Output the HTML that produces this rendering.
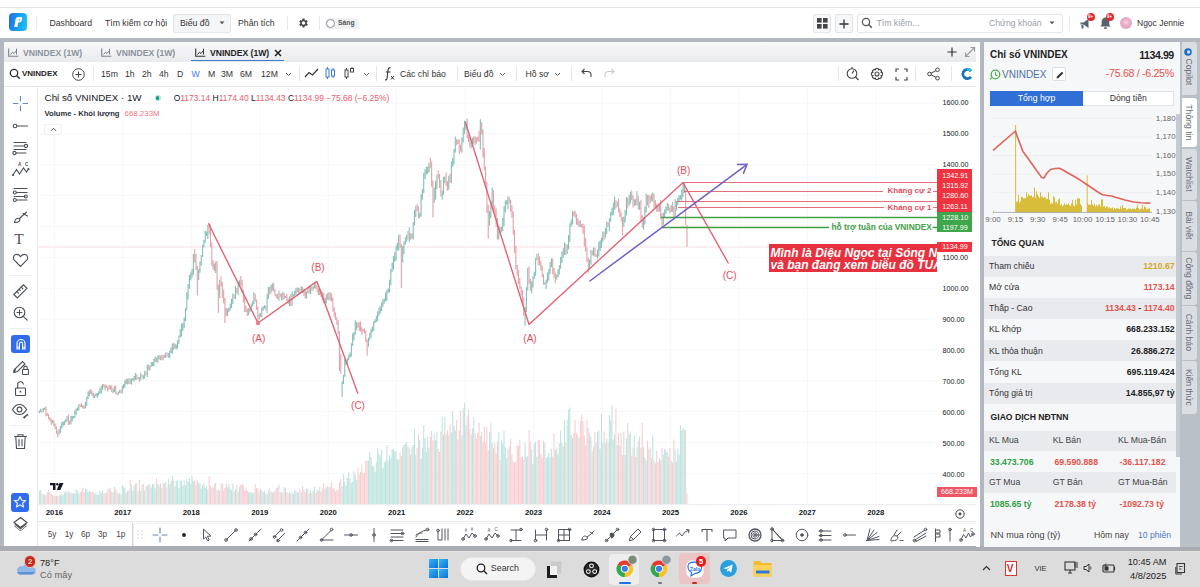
<!DOCTYPE html><html><head><meta charset="utf-8"><style>
*{margin:0;padding:0;box-sizing:border-box}
html,body{width:1200px;height:587px;overflow:hidden;background:#fff;font-family:"Liberation Sans",sans-serif;color:#222}
.a{position:absolute}
.t{position:absolute;white-space:nowrap;line-height:1}
svg{position:absolute;overflow:visible}
</style></head><body>
<div class="a" style="left:0;top:7px;width:1200px;height:1px;background:#e6e6e6"></div>
<!-- logo -->
<div class="a" style="left:9px;top:13px;width:18px;height:18px;border-radius:4px;background:linear-gradient(100deg,#1e6fe0,#1aa6f2 60%,#19c4f6)"></div>
<svg style="left:9px;top:13px" width="18" height="18" viewBox="0 0 18 18"><path d="M5.3 14 L6.6 6.2 Q7 4 9.5 4 L12.3 4 Q13.5 4 13.2 5.5 L12.9 7.2 Q12.6 9 10.8 9.2 L9.3 9.4 L8.4 14Z" fill="#fff"/><path d="M9.8 6.2 L11 6.2 L10.8 7.3 L9.6 7.4Z" fill="#1aa6f2"/></svg>
<div class="a" style="left:36px;top:16px;width:1px;height:14px;background:#e8e8e8"></div>
<div class="t" style="left:49.5px;top:18.5px;font-size:8.7px;color:#333">Dashboard</div>
<div class="t" style="left:105px;top:18.5px;font-size:8.7px;color:#333">Tìm kiếm cơ hội</div>
<div class="a" style="left:173px;top:14px;width:58px;height:18.5px;background:#f4f5f7;border:1px solid #e2e4e8;border-radius:2px"></div>
<div class="t" style="left:180px;top:18.5px;font-size:8.7px;color:#333">Biểu đồ</div>
<svg style="left:219px;top:21px" width="6" height="4"><path d="M0.5 0.5L3 3.2L5.5 0.5Z" fill="#555"/></svg>
<div class="t" style="left:238px;top:18.5px;font-size:8.7px;color:#333">Phân tích</div>
<div class="a" style="left:287px;top:16px;width:1px;height:14px;background:#e8e8e8"></div>
<svg style="left:297px;top:17px" width="12" height="12" viewBox="0 0 24 24"><path fill="#444" d="M19.4 13a7.5 7.5 0 0 0 0-2l2.1-1.6-2-3.5-2.5 1a7.6 7.6 0 0 0-1.7-1L15 3h-4l-.4 2.9a7.6 7.6 0 0 0-1.7 1l-2.5-1-2 3.5L6.6 11a7.5 7.5 0 0 0 0 2l-2.1 1.6 2 3.5 2.5-1a7.6 7.6 0 0 0 1.7 1L11 21h4l.4-2.9a7.6 7.6 0 0 0 1.7-1l2.5 1 2-3.5zM13 15.5a3.5 3.5 0 1 1 0-7 3.5 3.5 0 0 1 0 7z"/></svg>
<div class="a" style="left:319px;top:16px;width:1px;height:14px;background:#e8e8e8"></div>
<div class="a" style="left:325px;top:17.5px;width:34px;height:11px;border-radius:6px;background:#eef0f3"></div>
<div class="a" style="left:326px;top:18.5px;width:9px;height:9px;border-radius:50%;background:#fff;border:1px solid #8a8f98"></div>
<div class="t" style="left:338px;top:20px;font-size:6.8px;font-weight:bold;color:#555">Sáng</div>

<div class="a" style="left:812.5px;top:14px;width:18.5px;height:18.5px;border:1px solid #e2e4e8;background:#f6f7f9;border-radius:2px"></div>
<svg style="left:816.5px;top:18px" width="11" height="11"><rect x="0" y="0" width="4.6" height="4.6" fill="#444"/><rect x="6" y="0" width="4.6" height="4.6" fill="#444"/><rect x="0" y="6" width="4.6" height="4.6" fill="#444"/><rect x="6" y="6" width="4.6" height="4.6" fill="#444"/></svg>
<div class="a" style="left:834.5px;top:14px;width:18.5px;height:18.5px;border:1px solid #e2e4e8;background:#f6f7f9;border-radius:2px"></div>
<svg style="left:839px;top:18.5px" width="10" height="10"><path d="M5 0.5V9.5M0.5 5H9.5" stroke="#333" stroke-width="1.3"/></svg>
<div class="a" style="left:857px;top:14px;width:206px;height:18.5px;border:1px solid #e2e4e8;background:#fff;border-radius:2px"></div>
<svg style="left:861px;top:17px" width="12" height="12"><circle cx="5" cy="5" r="3.6" stroke="#555" stroke-width="1.3" fill="none"/><path d="M7.6 7.6L10.8 10.8" stroke="#555" stroke-width="1.4"/></svg>
<div class="t" style="left:876.5px;top:18.5px;font-size:8.7px;color:#9aa0a8">Tìm kiếm...</div>
<div class="t" style="left:989px;top:18.5px;font-size:8.7px;color:#9aa0a8">Chứng khoán</div>
<svg style="left:1049px;top:21px" width="6" height="4"><path d="M0.5 0.5L3 3.2L5.5 0.5Z" fill="#555"/></svg>
<div class="a" style="left:1069px;top:15px;width:1px;height:16px;background:#eaeaea"></div>
<!-- megaphone -->
<svg style="left:1079px;top:16px" width="14" height="14" viewBox="0 0 14 14"><path d="M1.5 6.5h3l5-3.5v9l-5-3.5h-3z" fill="#5a6270"/><rect x="2.5" y="9" width="2" height="3.5" fill="#5a6270"/></svg>
<div class="a" style="left:1087px;top:13px;width:8px;height:8px;border-radius:50%;background:#e0262e"></div>
<div class="t" style="left:1088px;top:15px;font-size:4.5px;font-weight:bold;color:#fff">9+</div>
<!-- bell -->
<svg style="left:1099px;top:16px" width="13" height="14" viewBox="0 0 13 14"><path d="M6.5 1.5c-2.3 0-3.8 1.8-3.8 4v3.2L1.3 10.5h10.4L10.3 8.7V5.5c0-2.2-1.5-4-3.8-4z" fill="#5a6270"/><rect x="5" y="11.2" width="3" height="1.8" rx="0.9" fill="#5a6270"/></svg>
<div class="a" style="left:1106px;top:13px;width:8px;height:8px;border-radius:50%;background:#e0262e"></div>
<div class="t" style="left:1107px;top:15px;font-size:4.5px;font-weight:bold;color:#fff">9+</div>
<div class="a" style="left:1120px;top:17px;width:12px;height:12px;border-radius:50%;background:radial-gradient(circle at 50% 45%,#f6d0dc 0,#e8a9c4 45%,#d9a0d0 100%)"></div>
<div class="t" style="left:1137px;top:18.5px;font-size:8.5px;color:#333">Ngọc Jennie</div>

<div class="a" style="left:0;top:38px;width:1200px;height:4px;background:#b3b8c0"></div>
<div class="a" style="left:0;top:42px;width:4px;height:505px;background:#b3b8c0"></div>
<div class="a" style="left:979.5px;top:42px;width:4.5px;height:505px;background:#b3b8c0"></div>
<div class="a" style="left:0;top:546px;width:1200px;height:5px;background:#a9acb2"></div>
<!-- tab bar -->
<div class="a" style="left:4px;top:42px;width:975.5px;height:20px;background:linear-gradient(#f9f9fa,#e9eaec)"></div>
<div class="a" style="left:976px;top:42px;width:3.5px;height:505px;background:#fff"></div>
<div class="a" style="left:36.7px;top:87px;width:1.8px;height:459px;background:#e8eaee;z-index:2"></div>
<svg style="left:8px;top:48px" width="11" height="9" viewBox="0 0 11 9"><path d="M0.7 0.5V8.3H10.3" stroke="#7a8290" stroke-width="1.1" fill="none"/><path d="M2.5 6.5L4.5 4.2L6 5.5L8.5 2.5" stroke="#7a8290" stroke-width="1" fill="none"/><path d="M8.5 0.7V6.5" stroke="#7a8290" stroke-width="1"/></svg><div class="t" style="left:23px;top:48.5px;font-size:8.6px;font-weight:bold;color:#8a919c">VNINDEX (1W)</div><svg style="left:101px;top:48px" width="11" height="9" viewBox="0 0 11 9"><path d="M0.7 0.5V8.3H10.3" stroke="#7a8290" stroke-width="1.1" fill="none"/><path d="M2.5 6.5L4.5 4.2L6 5.5L8.5 2.5" stroke="#7a8290" stroke-width="1" fill="none"/><path d="M8.5 0.7V6.5" stroke="#7a8290" stroke-width="1"/></svg><div class="t" style="left:116px;top:48.5px;font-size:8.6px;font-weight:bold;color:#8a919c">VNINDEX (1W)</div><svg style="left:195px;top:48px" width="11" height="9" viewBox="0 0 11 9"><path d="M0.7 0.5V8.3H10.3" stroke="#333" stroke-width="1.1" fill="none"/><path d="M2.5 6.5L4.5 4.2L6 5.5L8.5 2.5" stroke="#333" stroke-width="1" fill="none"/><path d="M8.5 0.7V6.5" stroke="#333" stroke-width="1"/></svg><div class="t" style="left:210px;top:48.5px;font-size:8.6px;font-weight:bold;color:#222">VNINDEX (1W)</div><svg style="left:273.5px;top:49px" width="8" height="8"><path d="M1 1L7 7M7 1L1 7" stroke="#222" stroke-width="1.5"/></svg><div class="a" style="left:191px;top:59.5px;width:93px;height:1.2px;background:#3a7bd5"></div><svg style="left:946.5px;top:47px" width="10" height="10"><path d="M5 0.5V9.5M0.5 5H9.5" stroke="#333" stroke-width="1.2"/></svg><svg style="left:964px;top:46px" width="12" height="12"><path d="M1.5 10.5L10.5 1.5M6.5 1.5H10.5V5.5M1.5 6.5V10.5H5.5" stroke="#999" stroke-width="1.1" fill="none"/></svg><div class="a" style="left:4px;top:62px;width:972px;height:24.5px;background:#fff;border-bottom:1.5px solid #e3e5e9"></div><svg style="left:8.5px;top:67.5px" width="12" height="12" viewBox="0 0 12 12"><circle cx="5" cy="5" r="3.7" stroke="#333" stroke-width="1.3" fill="none"/><path d="M7.7 7.7L10.8 10.8" stroke="#333" stroke-width="1.4"/></svg><div class="t" style="left:22px;top:69.8px;font-size:8.0px;color:#222;font-weight:bold;">VNINDEX</div><svg style="left:71.5px;top:67.5px" width="13" height="13" viewBox="0 0 13 13"><circle cx="6.5" cy="6.5" r="5.8" stroke="#444" stroke-width="1" fill="none"/><path d="M6.5 3.5V9.5M3.5 6.5H9.5" stroke="#444" stroke-width="1.1"/></svg><div class="a" style="left:93px;top:66px;width:1px;height:15px;background:#e4e6ea"></div><div class="t" style="left:101px;top:69.5px;font-size:8.7px;color:#333;font-weight:normal;">15m</div><div class="t" style="left:125px;top:69.5px;font-size:8.7px;color:#333;font-weight:normal;">1h</div><div class="t" style="left:142px;top:69.5px;font-size:8.7px;color:#333;font-weight:normal;">2h</div><div class="t" style="left:159px;top:69.5px;font-size:8.7px;color:#333;font-weight:normal;">4h</div><div class="t" style="left:177px;top:69.5px;font-size:8.7px;color:#333;font-weight:normal;">D</div><div class="t" style="left:191.5px;top:69.5px;font-size:8.7px;color:#3b78e7;font-weight:normal;">W</div><div class="t" style="left:208px;top:69.5px;font-size:8.7px;color:#333;font-weight:normal;">M</div><div class="t" style="left:221px;top:69.5px;font-size:8.7px;color:#333;font-weight:normal;">3M</div><div class="t" style="left:240px;top:69.5px;font-size:8.7px;color:#333;font-weight:normal;">6M</div><div class="t" style="left:261px;top:69.5px;font-size:8.7px;color:#333;font-weight:normal;">12M</div><svg style="left:285px;top:72px" width="7" height="5" viewBox="0 0 7 5"><path d="M1 1L3.5 3.5L6 1" stroke="#555" stroke-width="1" fill="none"/></svg><div class="a" style="left:298.5px;top:66px;width:1px;height:15px;background:#e4e6ea"></div><svg style="left:304px;top:67px" width="15" height="12" viewBox="0 0 15 12"><path d="M1 10L5 5.5L8.5 8L14 2" stroke="#333" stroke-width="1.2" fill="none"/></svg><svg style="left:325px;top:66px" width="11" height="14" viewBox="0 0 11 14"><rect x="1" y="3" width="3" height="8" stroke="#3b78e7" stroke-width="1" fill="none"/><path d="M2.5 1V3M2.5 11V13" stroke="#3b78e7"/><rect x="6.5" y="4" width="3" height="6" stroke="#3b78e7" stroke-width="1" fill="none"/><path d="M8 2V4M8 10V12" stroke="#3b78e7"/></svg><svg style="left:344px;top:66px" width="11" height="14" viewBox="0 0 11 14"><rect x="1" y="4" width="3" height="7" stroke="#444" stroke-width="1" fill="none"/><path d="M2.5 2V4M2.5 11V13" stroke="#444"/><rect x="6.5" y="2.5" width="3" height="3.5" stroke="#444" stroke-width="1" fill="none"/><path d="M8 1V2.5" stroke="#444"/></svg><svg style="left:363px;top:72px" width="7" height="5" viewBox="0 0 7 5"><path d="M1 1L3.5 3.5L6 1" stroke="#555" stroke-width="1" fill="none"/></svg><div class="a" style="left:376px;top:66px;width:1px;height:15px;background:#e4e6ea"></div><svg style="left:384px;top:66px" width="11" height="15" viewBox="0 0 11 15"><path d="M6.5 1.5C4.5 1.5 4.3 2.5 4 4.5L3 12.5C2.8 13.8 2 14 1 13.8M1.8 6H6.5" stroke="#333" stroke-width="1.1" fill="none"/><path d="M7 10L10 13.5M10 10L7 13.5" stroke="#333" stroke-width="1"/></svg><div class="t" style="left:400px;top:69.5px;font-size:8.7px;color:#333;font-weight:normal;">Các chỉ báo</div><div class="a" style="left:456.5px;top:66px;width:1px;height:15px;background:#e4e6ea"></div><div class="t" style="left:464px;top:69.5px;font-size:8.7px;color:#333;font-weight:normal;">Biểu đồ</div><svg style="left:499px;top:72px" width="7" height="5" viewBox="0 0 7 5"><path d="M1 1L3.5 3.5L6 1" stroke="#555" stroke-width="1" fill="none"/></svg><div class="a" style="left:516px;top:66px;width:1px;height:15px;background:#e4e6ea"></div><div class="t" style="left:525.5px;top:69.5px;font-size:8.7px;color:#333;font-weight:normal;">Hồ sơ</div><svg style="left:554px;top:72px" width="7" height="5" viewBox="0 0 7 5"><path d="M1 1L3.5 3.5L6 1" stroke="#555" stroke-width="1" fill="none"/></svg><div class="a" style="left:571px;top:66px;width:1px;height:15px;background:#e4e6ea"></div><svg style="left:581px;top:68px" width="11" height="10" viewBox="0 0 11 10"><path d="M3.5 1L1 3.5L3.5 6M1 3.5H6.5C8.5 3.5 10 5 10 7V9" stroke="#444" stroke-width="1.1" fill="none"/></svg><svg style="left:604px;top:68px" width="11" height="10" viewBox="0 0 11 10"><path d="M7.5 1L10 3.5L7.5 6M10 3.5H4.5C2.5 3.5 1 5 1 7V9" stroke="#c8cbd0" stroke-width="1.1" fill="none"/></svg><div class="a" style="left:838px;top:66px;width:1px;height:15px;background:#e4e6ea"></div><svg style="left:846px;top:66px" width="14" height="15" viewBox="0 0 14 15"><circle cx="6" cy="7.5" r="4.8" stroke="#444" stroke-width="1.1" fill="none"/><path d="M6 7.5L8 4.5M9.5 11L12.5 14" stroke="#444" stroke-width="1.2" fill="none"/><path d="M6 1V2.7" stroke="#444" stroke-width="1.2"/></svg><svg style="left:869.5px;top:66.5px" width="14" height="14" viewBox="0 0 14 14"><path d="M10.98 5.37L12.47 5.78L12.47 8.22L10.98 8.63L10.97 8.66L11.73 10.00L10.00 11.73L8.66 10.97L8.63 10.98L8.22 12.47L5.78 12.47L5.37 10.98L5.34 10.97L4.00 11.73L2.27 10.00L3.03 8.66L3.02 8.63L1.53 8.22L1.53 5.78L3.02 5.37L3.03 5.34L2.27 4.00L4.00 2.27L5.34 3.03L5.37 3.02L5.78 1.53L8.22 1.53L8.63 3.02L8.66 3.03L10.00 2.27L11.73 4.00L10.97 5.34Z" stroke="#444" stroke-width="1.1" fill="none" stroke-linejoin="round"/><circle cx="7" cy="7" r="2" stroke="#444" stroke-width="1.1" fill="none"/></svg><svg style="left:894.5px;top:67.5px" width="13" height="13" viewBox="0 0 13 13"><path d="M1 4V1H4M9 1H12V4M12 9V12H9M4 12H1V9" stroke="#444" stroke-width="1.2" fill="none"/></svg><div class="a" style="left:915px;top:66px;width:1px;height:15px;background:#e4e6ea"></div><svg style="left:926.5px;top:66.5px" width="13" height="14" viewBox="0 0 13 14"><circle cx="10.5" cy="2.8" r="1.8" stroke="#444" stroke-width="1" fill="none"/><circle cx="10.5" cy="11.2" r="1.8" stroke="#444" stroke-width="1" fill="none"/><circle cx="2.5" cy="7" r="1.8" stroke="#444" stroke-width="1" fill="none"/><path d="M4 6.2L9 3.6M4 7.8L9 10.4" stroke="#444" stroke-width="1"/></svg><div class="a" style="left:950.5px;top:66px;width:1px;height:15px;background:#e4e6ea"></div><svg style="left:959.5px;top:66.5px" width="14" height="14" viewBox="0 0 14 14"><path d="M12.2 3.2A6 6 0 1 0 12.2 10.8L9.8 9A3.1 3.1 0 1 1 9.8 5Z" fill="#1a6fc4"/><path d="M12.2 3.2L9.8 5A3.1 3.1 0 0 0 7 3.9V1A6 6 0 0 1 12.2 3.2Z" fill="#29b6e8"/></svg>
<div class="a" style="left:38px;top:87px;width:938px;height:435px;background:#fff"></div>
<svg style="left:0;top:0" width="1200" height="587">
<defs><clipPath id="cp"><rect x="38" y="87" width="899" height="418"/></clipPath></defs>
<path d="M38 473.3H937M38 442.4H937M38 411.6H937M38 380.8H937M38 349.9H937M38 319.1H937M38 288.2H937M38 257.3H937M38 226.5H937M38 195.6H937M38 164.8H937M38 133.9H937M38 103.1H937M54.4 87V504M122.8 87V504M191.3 87V504M259.8 87V504M328.2 87V504M396.6 87V504M465.1 87V504M533.6 87V504M602.0 87V504M670.5 87V504M738.9 87V504M807.4 87V504M875.8 87V504" stroke="#f6f7f9" stroke-width="1" fill="none"/>
<g clip-path="url(#cp)">
<path d="M39.36 504.5V490.7M40.67 504.5V489.9M43.31 504.5V494.3M44.62 504.5V494.8M52.52 504.5V490.1M59.10 504.5V489.6M60.42 504.5V489.3M61.74 504.5V492.3M63.05 504.5V495.0M64.37 504.5V491.5M65.68 504.5V490.1M67.00 504.5V492.5M70.95 504.5V492.1M72.27 504.5V493.7M73.58 504.5V493.0M74.90 504.5V493.8M76.22 504.5V489.8M77.53 504.5V490.9M78.85 504.5V493.7M85.43 504.5V488.6M86.75 504.5V488.9M88.06 504.5V491.9M89.38 504.5V490.8M94.64 504.5V494.1M95.96 504.5V492.6M97.28 504.5V494.7M98.59 504.5V495.1M99.91 504.5V489.9M101.23 504.5V493.1M102.54 504.5V490.6M107.81 504.5V489.6M113.07 504.5V492.1M114.39 504.5V487.1M118.34 504.5V493.7M119.65 504.5V492.8M122.29 504.5V484.9M123.60 504.5V487.2M124.92 504.5V487.7M126.24 504.5V493.0M128.87 504.5V490.5M131.50 504.5V484.4M132.82 504.5V490.8M134.13 504.5V485.5M135.45 504.5V483.6M138.08 504.5V491.3M140.72 504.5V490.6M143.35 504.5V483.9M144.67 504.5V490.7M147.30 504.5V485.3M149.93 504.5V485.5M151.25 504.5V487.4M152.56 504.5V484.2M153.88 504.5V484.2M155.20 504.5V488.4M157.83 504.5V483.7M159.15 504.5V485.6M163.09 504.5V482.5M165.73 504.5V482.0M168.36 504.5V479.1M169.68 504.5V484.3M170.99 504.5V481.2M172.31 504.5V476.0M174.94 504.5V486.5M176.26 504.5V481.1M177.57 504.5V479.8M178.89 504.5V487.9M180.21 504.5V480.5M181.52 504.5V480.7M182.84 504.5V485.7M184.16 504.5V480.7M185.47 504.5V485.5M186.79 504.5V479.3M188.10 504.5V482.1M189.42 504.5V477.9M190.74 504.5V484.1M192.05 504.5V476.2M193.37 504.5V481.0M198.64 504.5V482.4M199.95 504.5V483.4M201.27 504.5V488.4M202.58 504.5V485.3M203.90 504.5V483.0M205.22 504.5V487.9M206.53 504.5V486.3M207.85 504.5V489.6M215.75 504.5V482.5M219.70 504.5V490.7M227.60 504.5V486.9M228.91 504.5V483.8M230.23 504.5V488.5M231.54 504.5V490.5M232.86 504.5V483.8M235.49 504.5V489.2M238.13 504.5V491.8M239.44 504.5V486.7M248.66 504.5V492.3M249.97 504.5V492.1M251.29 504.5V492.5M252.61 504.5V493.5M253.92 504.5V492.4M259.19 504.5V491.4M261.82 504.5V490.3M263.14 504.5V492.2M264.45 504.5V491.2M267.09 504.5V493.9M268.40 504.5V490.7M271.03 504.5V491.5M272.35 504.5V492.4M278.93 504.5V484.5M282.88 504.5V492.7M285.51 504.5V487.7M289.46 504.5V491.9M292.10 504.5V491.5M293.41 504.5V493.8M294.73 504.5V490.2M296.05 504.5V490.8M298.68 504.5V492.8M301.31 504.5V492.3M306.58 504.5V488.4M307.89 504.5V489.2M310.53 504.5V490.3M313.16 504.5V490.7M314.47 504.5V486.8M319.74 504.5V486.7M325.00 504.5V488.8M326.32 504.5V487.2M328.95 504.5V487.1M342.12 504.5V486.7M343.43 504.5V474.3M344.75 504.5V481.6M346.07 504.5V485.6M347.38 504.5V477.8M348.70 504.5V472.4M350.02 504.5V478.8M351.33 504.5V482.9M352.65 504.5V482.1M353.96 504.5V471.7M355.28 504.5V474.8M356.60 504.5V479.7M368.44 504.5V460.8M369.76 504.5V451.9M371.08 504.5V457.1M372.39 504.5V465.9M373.71 504.5V466.2M375.03 504.5V471.4M376.34 504.5V461.8M377.66 504.5V448.3M378.98 504.5V454.2M380.29 504.5V456.4M381.61 504.5V450.0M382.92 504.5V468.2M384.24 504.5V462.3M385.56 504.5V461.3M386.87 504.5V445.0M388.19 504.5V460.4M389.51 504.5V455.2M390.82 504.5V458.2M392.14 504.5V448.7M393.45 504.5V449.5M394.77 504.5V451.0M396.09 504.5V451.8M397.40 504.5V459.6M398.72 504.5V459.6M402.67 504.5V447.1M403.99 504.5V444.9M405.30 504.5V443.4M406.62 504.5V441.7M409.25 504.5V448.4M411.88 504.5V447.2M413.20 504.5V445.1M414.52 504.5V428.3M415.83 504.5V454.7M419.78 504.5V440.0M421.10 504.5V459.0M422.41 504.5V448.0M423.73 504.5V425.3M425.05 504.5V438.2M426.36 504.5V452.3M427.68 504.5V436.6M429.00 504.5V447.8M434.26 504.5V432.7M435.58 504.5V440.1M436.89 504.5V431.4M442.16 504.5V417.1M443.48 504.5V434.7M444.79 504.5V417.3M448.74 504.5V435.3M451.37 504.5V432.4M452.69 504.5V411.0M454.01 504.5V425.7M455.32 504.5V430.6M461.90 504.5V435.6M463.22 504.5V408.4M464.54 504.5V402.8M465.85 504.5V425.6M471.12 504.5V434.5M472.44 504.5V428.4M473.75 504.5V417.5M480.33 504.5V436.0M489.55 504.5V431.8M490.86 504.5V423.2M492.18 504.5V442.5M498.76 504.5V432.4M501.40 504.5V440.2M502.71 504.5V443.4M504.03 504.5V430.9M505.34 504.5V447.2M506.66 504.5V458.0M507.98 504.5V449.1M525.09 504.5V443.2M526.41 504.5V457.0M527.72 504.5V456.0M531.67 504.5V449.9M532.99 504.5V464.1M534.30 504.5V443.4M535.62 504.5V442.0M536.94 504.5V456.9M544.83 504.5V442.7M546.15 504.5V458.1M547.47 504.5V456.8M548.78 504.5V453.0M550.10 504.5V457.0M551.42 504.5V448.4M556.68 504.5V447.4M558.00 504.5V454.3M559.31 504.5V443.6M560.63 504.5V430.4M561.95 504.5V443.1M563.26 504.5V446.4M564.58 504.5V420.1M567.21 504.5V420.2M568.53 504.5V409.4M569.85 504.5V407.5M571.16 504.5V435.0M572.48 504.5V438.6M579.06 504.5V437.9M589.59 504.5V433.5M590.91 504.5V436.6M593.54 504.5V446.9M597.49 504.5V431.8M598.80 504.5V430.0M600.12 504.5V448.4M601.44 504.5V413.8M602.75 504.5V443.1M605.39 504.5V443.4M606.70 504.5V438.4M609.34 504.5V415.1M610.65 504.5V420.5M611.97 504.5V405.5M613.28 504.5V439.6M614.60 504.5V434.6M617.23 504.5V445.0M623.82 504.5V431.6M625.13 504.5V455.0M626.45 504.5V438.4M629.08 504.5V434.5M630.40 504.5V431.6M634.35 504.5V435.3M636.98 504.5V447.6M639.61 504.5V436.8M643.56 504.5V446.8M644.88 504.5V457.8M646.19 504.5V460.7M650.14 504.5V447.2M652.78 504.5V434.8M659.36 504.5V457.9M663.31 504.5V455.1M664.62 504.5V449.1M665.94 504.5V450.2M667.25 504.5V452.2M671.20 504.5V460.6M675.15 504.5V449.9M676.47 504.5V461.4M677.79 504.5V449.1M679.10 504.5V454.5M680.42 504.5V425.1M681.73 504.5V430.6M683.05 504.5V428.2M684.37 504.5V430.2" stroke="#bfe3de" stroke-width="1.05" fill="none"/>
<path d="M41.99 504.5V493.6M45.94 504.5V494.3M47.26 504.5V492.2M48.57 504.5V490.0M49.89 504.5V486.7M51.20 504.5V491.8M53.84 504.5V492.6M55.15 504.5V494.7M56.47 504.5V491.3M57.79 504.5V487.3M68.32 504.5V490.8M69.63 504.5V492.8M80.16 504.5V492.1M81.48 504.5V491.0M82.80 504.5V487.6M84.11 504.5V492.3M90.70 504.5V491.8M92.01 504.5V491.7M93.33 504.5V491.9M103.86 504.5V493.7M105.18 504.5V492.7M106.49 504.5V492.6M109.12 504.5V487.4M110.44 504.5V488.5M111.76 504.5V491.5M115.71 504.5V488.7M117.02 504.5V491.4M120.97 504.5V494.0M127.55 504.5V490.8M130.19 504.5V480.1M136.77 504.5V483.3M139.40 504.5V480.1M142.03 504.5V485.1M145.98 504.5V486.3M148.61 504.5V484.3M156.51 504.5V478.2M160.46 504.5V483.5M161.78 504.5V487.9M164.41 504.5V484.1M167.04 504.5V487.4M173.63 504.5V481.0M194.69 504.5V480.7M196.00 504.5V485.5M197.32 504.5V480.5M209.17 504.5V476.3M210.48 504.5V485.7M211.80 504.5V488.0M213.12 504.5V486.8M214.43 504.5V484.0M217.06 504.5V490.6M218.38 504.5V489.5M221.01 504.5V483.7M222.33 504.5V483.2M223.65 504.5V490.8M224.96 504.5V488.1M226.28 504.5V483.5M234.18 504.5V491.6M236.81 504.5V484.9M240.76 504.5V484.7M242.08 504.5V484.0M243.39 504.5V485.5M244.71 504.5V490.5M246.02 504.5V487.3M247.34 504.5V490.7M255.24 504.5V484.1M256.55 504.5V487.8M257.87 504.5V488.3M260.50 504.5V488.4M265.77 504.5V493.4M269.72 504.5V488.5M273.67 504.5V492.0M274.98 504.5V490.9M276.30 504.5V488.1M277.62 504.5V487.6M280.25 504.5V492.6M281.57 504.5V492.1M284.20 504.5V487.3M286.83 504.5V492.0M288.15 504.5V493.5M290.78 504.5V493.8M297.36 504.5V492.2M299.99 504.5V488.4M302.63 504.5V486.1M303.94 504.5V490.1M305.26 504.5V492.0M309.21 504.5V492.9M311.84 504.5V492.8M315.79 504.5V492.9M317.11 504.5V489.5M318.42 504.5V491.0M321.06 504.5V491.6M322.37 504.5V488.3M323.69 504.5V483.2M327.64 504.5V486.0M330.27 504.5V486.7M331.59 504.5V481.4M332.90 504.5V488.5M334.22 504.5V488.2M335.54 504.5V491.8M336.85 504.5V489.4M338.17 504.5V489.8M339.48 504.5V482.4M340.80 504.5V478.8M357.91 504.5V467.6M359.23 504.5V474.4M360.55 504.5V471.9M361.86 504.5V464.4M363.18 504.5V473.2M364.50 504.5V472.5M365.81 504.5V460.5M367.13 504.5V460.6M400.04 504.5V451.9M401.35 504.5V455.8M407.93 504.5V446.2M410.57 504.5V454.6M417.15 504.5V447.7M418.47 504.5V434.0M430.31 504.5V437.0M431.63 504.5V430.9M432.95 504.5V440.4M438.21 504.5V449.1M439.53 504.5V452.1M440.84 504.5V431.4M446.11 504.5V433.9M447.43 504.5V430.1M450.06 504.5V424.5M456.64 504.5V420.1M457.96 504.5V439.6M459.27 504.5V430.5M460.59 504.5V410.7M467.17 504.5V416.5M468.49 504.5V409.6M469.80 504.5V428.6M475.07 504.5V433.4M476.38 504.5V438.8M477.70 504.5V432.8M479.02 504.5V422.5M481.65 504.5V431.7M482.97 504.5V441.4M484.28 504.5V426.2M485.60 504.5V442.8M486.92 504.5V426.6M488.23 504.5V450.2M493.50 504.5V447.7M494.81 504.5V442.4M496.13 504.5V453.2M497.45 504.5V442.1M500.08 504.5V460.2M509.29 504.5V447.2M510.61 504.5V438.8M511.93 504.5V454.3M513.24 504.5V461.2M514.56 504.5V462.8M515.88 504.5V461.4M517.19 504.5V445.2M518.51 504.5V445.6M519.82 504.5V439.6M521.14 504.5V457.6M522.46 504.5V456.8M523.77 504.5V459.0M529.04 504.5V430.1M530.35 504.5V441.7M538.25 504.5V439.9M539.57 504.5V439.8M540.89 504.5V454.0M542.20 504.5V458.1M543.52 504.5V440.8M552.73 504.5V456.7M554.05 504.5V433.2M555.37 504.5V449.6M565.90 504.5V442.4M573.79 504.5V433.3M575.11 504.5V420.3M576.43 504.5V433.4M577.74 504.5V434.5M580.38 504.5V421.6M581.69 504.5V414.6M583.01 504.5V420.9M584.33 504.5V435.5M585.64 504.5V445.2M586.96 504.5V419.7M588.27 504.5V428.2M592.22 504.5V451.5M594.86 504.5V432.0M596.17 504.5V442.7M604.07 504.5V431.4M608.02 504.5V442.9M615.92 504.5V408.4M618.55 504.5V433.6M619.87 504.5V445.7M621.18 504.5V432.8M622.50 504.5V455.1M627.76 504.5V422.9M631.71 504.5V456.2M633.03 504.5V447.6M635.66 504.5V456.9M638.30 504.5V440.4M640.93 504.5V447.8M642.24 504.5V423.1M647.51 504.5V440.9M648.83 504.5V448.7M651.46 504.5V458.0M654.09 504.5V460.7M655.41 504.5V463.0M656.72 504.5V450.8M658.04 504.5V461.9M660.67 504.5V460.3M661.99 504.5V447.9M668.57 504.5V456.8M669.89 504.5V447.9M672.52 504.5V462.4M673.84 504.5V439.4M685.68 504.5V429.7M687.00 504.5V493.5" stroke="#f8cdd1" stroke-width="1.05" fill="none"/>
<path d="M38 247H937" stroke="#f6dde0" stroke-width="1"/>
<path d="M39.36 410.4V413.3M40.67 408.8V412.2M43.31 408.1V411.8M44.62 407.4V410.1M52.52 420.2V423.6M59.10 429.0V434.7M60.42 425.9V433.0M61.74 422.2V428.8M63.05 421.5V426.6M64.37 420.8V425.2M65.68 419.2V422.5M67.00 415.9V421.5M70.95 416.0V424.6M72.27 415.8V421.2M73.58 415.9V418.4M74.90 410.2V417.8M76.22 408.4V415.0M77.53 407.3V410.7M78.85 403.9V410.5M85.43 401.8V408.2M86.75 396.5V406.0M88.06 391.5V398.9M89.38 390.3V396.3M94.64 394.4V398.1M95.96 393.5V396.2M97.28 393.1V397.9M98.59 391.2V395.4M99.91 388.3V393.3M101.23 385.8V394.1M102.54 384.2V389.9M107.81 386.4V391.4M113.07 388.5V393.2M114.39 385.9V392.3M118.34 391.4V394.8M119.65 389.7V393.1M122.29 385.6V393.2M123.60 384.1V389.0M124.92 380.5V387.4M126.24 378.7V384.2M128.87 378.2V384.2M131.50 378.6V384.7M132.82 378.1V380.8M134.13 375.9V381.5M135.45 372.9V379.7M138.08 377.1V379.2M140.72 372.8V380.2M143.35 375.2V379.4M144.67 370.8V378.6M147.30 364.8V377.0M149.93 365.4V370.8M151.25 361.9V366.7M152.56 362.1V366.1M153.88 358.7V366.4M155.20 356.6V362.3M157.83 355.5V363.2M159.15 355.2V359.5M163.09 355.0V360.6M165.73 352.4V358.1M168.36 353.1V357.5M169.68 350.7V358.2M170.99 347.4V353.1M172.31 343.5V353.7M174.94 343.8V348.8M176.26 344.4V349.6M177.57 340.3V348.5M178.89 335.6V343.8M180.21 329.0V337.5M181.52 323.5V336.6M182.84 322.7V331.0M184.16 317.6V328.3M185.47 308.3V320.9M186.79 292.2V310.6M188.10 283.9V299.4M189.42 275.1V288.8M190.74 272.6V280.2M192.05 269.0V277.7M193.37 253.8V275.0M198.64 269.3V280.0M199.95 261.4V272.7M201.27 254.9V265.4M202.58 245.0V257.1M203.90 239.7V247.3M205.22 230.6V242.6M206.53 231.4V235.9M207.85 224.9V238.9M215.75 261.6V273.0M219.70 280.1V297.9M227.60 308.4V315.9M228.91 307.4V312.0M230.23 303.6V310.2M231.54 298.7V307.9M232.86 293.4V304.1M235.49 286.1V299.0M238.13 281.4V294.9M239.44 279.7V285.8M248.66 308.0V315.1M249.97 308.6V311.8M251.29 303.4V311.3M252.61 301.1V306.5M253.92 292.2V304.0M259.19 313.4V319.5M261.82 307.7V317.2M263.14 306.3V310.8M264.45 305.3V308.8M267.09 293.9V313.2M268.40 287.0V298.9M271.03 284.8V293.3M272.35 283.5V290.5M278.93 290.4V300.7M282.88 291.7V299.9M285.51 295.8V298.1M289.46 296.6V305.9M292.10 291.4V306.1M293.41 294.1V296.7M294.73 290.5V295.9M296.05 287.7V294.8M298.68 287.6V293.9M301.31 286.1V292.5M306.58 291.2V298.4M307.89 288.8V293.2M310.53 285.7V294.0M313.16 286.3V290.4M314.47 281.7V288.6M319.74 287.8V295.3M325.00 298.1V302.9M326.32 294.6V303.4M328.95 292.1V300.2M342.12 381.5V397.0M343.43 374.9V384.1M344.75 359.1V377.1M346.07 360.0V364.7M347.38 358.0V362.8M348.70 354.8V360.2M350.02 352.5V357.6M351.33 343.2V356.7M352.65 333.4V346.1M353.96 332.0V340.4M355.28 320.3V334.7M356.60 322.1V330.1M368.44 337.4V346.5M369.76 332.8V340.6M371.08 328.7V337.7M372.39 326.3V332.3M373.71 320.9V331.1M375.03 319.2V323.1M376.34 315.5V322.0M377.66 311.6V321.0M378.98 307.7V315.7M380.29 306.2V313.4M381.61 302.5V311.1M382.92 299.3V306.7M384.24 298.5V303.4M385.56 292.5V301.5M386.87 289.7V300.8M388.19 288.3V292.8M389.51 279.7V292.6M390.82 269.0V285.6M392.14 262.6V272.3M393.45 256.1V269.6M394.77 252.2V261.8M396.09 245.6V260.4M397.40 242.7V250.4M398.72 234.6V250.6M402.67 246.1V262.5M403.99 241.6V253.9M405.30 237.2V244.6M406.62 235.0V241.7M409.25 227.6V242.0M411.88 233.8V238.6M413.20 222.2V239.7M414.52 209.9V225.4M415.83 205.4V217.1M419.78 212.8V218.3M421.10 194.0V216.5M422.41 189.0V199.5M423.73 173.0V193.3M425.05 169.2V179.1M426.36 167.0V174.5M427.68 166.2V174.1M429.00 162.4V172.2M434.26 187.6V203.1M435.58 180.8V199.6M436.89 174.8V189.1M442.16 190.5V199.8M443.48 176.7V194.9M444.79 176.2V183.3M448.74 175.8V189.7M451.37 161.3V183.1M452.69 158.1V166.8M454.01 148.8V164.6M455.32 136.5V152.5M461.90 137.6V152.7M463.22 127.5V142.5M464.54 120.8V134.0M465.85 120.7V129.8M471.12 142.0V148.5M472.44 137.7V146.3M473.75 136.6V143.6M480.33 119.2V149.4M489.55 211.1V225.8M490.86 201.2V218.2M492.18 187.6V208.6M498.76 226.4V239.6M501.40 226.8V232.3M502.71 218.0V230.9M504.03 205.9V226.3M505.34 200.4V212.5M506.66 200.0V204.6M507.98 196.2V208.9M525.09 306.9V325.7M526.41 287.3V312.1M527.72 267.9V290.6M531.67 281.2V293.4M532.99 276.3V287.6M534.30 271.8V278.7M535.62 258.0V276.1M536.94 254.1V259.9M544.83 282.2V284.5M546.15 279.5V289.0M547.47 272.5V282.7M548.78 268.9V280.6M550.10 262.0V273.9M551.42 258.4V266.9M556.68 274.6V279.6M558.00 269.5V277.3M559.31 265.2V274.4M560.63 257.0V268.7M561.95 251.4V262.8M563.26 248.3V257.8M564.58 242.4V255.0M567.21 244.4V253.9M568.53 235.1V249.6M569.85 223.3V241.9M571.16 219.6V226.7M572.48 210.7V224.6M579.06 220.4V227.0M589.59 259.5V268.4M590.91 249.9V264.7M593.54 247.6V255.7M597.49 249.8V258.8M598.80 241.7V256.5M600.12 240.3V250.7M601.44 237.8V248.0M602.75 231.8V242.3M605.39 227.9V237.5M606.70 221.6V234.0M609.34 218.3V230.9M610.65 212.0V221.6M611.97 207.8V215.4M613.28 202.5V215.3M614.60 196.5V209.9M617.23 201.4V206.7M623.82 216.4V227.0M625.13 209.7V222.4M626.45 197.0V215.6M629.08 195.2V205.7M630.40 192.0V203.5M634.35 199.3V205.9M636.98 190.9V205.2M639.61 201.8V210.0M643.56 217.3V229.8M644.88 206.7V224.5M646.19 193.5V212.3M650.14 196.1V203.3M652.78 192.2V202.1M659.36 203.1V211.4M663.31 212.7V224.8M664.62 209.5V217.1M665.94 206.5V214.0M667.25 202.8V210.8M671.20 205.0V212.0M675.15 199.1V217.0M676.47 201.1V210.4M677.79 197.7V205.1M679.10 195.3V201.4M680.42 195.1V199.5M681.73 189.3V200.8M683.05 183.3V196.9M684.37 181.9V193.0" stroke="#84bfb6" stroke-width="1.1" fill="none"/>
<path d="M41.99 409.4V412.8M45.94 406.4V416.6M47.26 413.0V415.9M48.57 413.9V419.3M49.89 417.1V421.1M51.20 418.6V424.7M53.84 420.3V426.0M55.15 423.6V429.1M56.47 426.5V433.7M57.79 430.7V437.4M68.32 414.6V424.9M69.63 420.4V424.8M80.16 404.5V407.1M81.48 402.9V407.1M82.80 405.1V408.6M84.11 405.4V408.9M90.70 389.1V394.0M92.01 390.4V395.7M93.33 392.7V398.1M103.86 384.0V387.4M105.18 384.7V390.4M106.49 385.2V387.9M109.12 385.1V389.4M110.44 385.4V390.1M111.76 385.5V392.2M115.71 385.4V393.9M117.02 392.4V394.9M120.97 389.5V393.5M127.55 378.7V384.4M130.19 378.6V384.1M136.77 374.3V380.1M139.40 376.9V382.3M142.03 374.5V377.5M145.98 371.4V375.4M148.61 364.5V370.0M156.51 357.5V362.0M160.46 355.5V360.3M161.78 354.9V360.1M164.41 354.4V358.0M167.04 352.5V356.5M173.63 342.7V350.1M194.69 249.0V262.4M196.00 254.1V270.1M197.32 265.7V295.5M209.17 223.3V234.2M210.48 224.6V247.1M211.80 242.2V266.1M213.12 260.2V269.4M214.43 263.5V270.9M217.06 260.9V289.8M218.38 284.6V313.0M221.01 276.2V286.4M222.33 282.1V298.0M223.65 289.7V303.6M224.96 298.0V323.0M226.28 307.8V316.3M234.18 294.6V298.5M236.81 288.0V293.4M240.76 276.1V286.3M242.08 279.8V293.0M243.39 290.1V302.4M244.71 297.3V311.9M246.02 306.0V312.1M247.34 308.6V316.0M255.24 293.7V301.7M256.55 299.5V309.8M257.87 306.6V322.0M260.50 313.1V317.1M265.77 305.7V310.6M269.72 286.8V294.8M273.67 282.5V291.8M274.98 289.3V295.7M276.30 294.1V298.1M277.62 293.8V298.9M280.25 293.3V297.2M281.57 293.4V299.9M284.20 293.0V298.9M286.83 293.7V300.9M288.15 298.4V304.0M290.78 294.1V306.2M297.36 287.4V292.6M299.99 288.4V292.8M302.63 286.9V293.0M303.94 288.9V295.8M305.26 290.5V298.6M309.21 285.8V293.7M311.84 286.4V290.7M315.79 283.4V289.0M317.11 285.4V292.2M318.42 288.2V294.9M321.06 289.5V297.0M322.37 292.0V300.7M323.69 293.0V303.6M327.64 293.1V299.5M330.27 292.3V300.4M331.59 293.2V301.8M332.90 297.4V311.7M334.22 307.5V317.0M335.54 312.2V319.7M336.85 317.2V324.7M338.17 320.3V334.2M339.48 331.0V371.0M340.80 353.9V373.6M357.91 322.8V327.8M359.23 321.8V331.1M360.55 321.6V331.6M361.86 327.2V334.5M363.18 329.0V331.8M364.50 328.5V333.4M365.81 330.8V341.9M367.13 339.5V355.8M400.04 234.5V248.3M401.35 243.9V288.0M407.93 231.0V239.4M410.57 233.3V239.7M417.15 204.3V211.2M418.47 206.2V218.2M430.31 157.5V168.3M431.63 161.6V186.7M432.95 180.5V217.4M438.21 170.3V178.7M439.53 174.0V188.1M440.84 179.9V196.5M446.11 172.5V185.9M447.43 181.0V190.7M450.06 173.6V182.7M456.64 139.1V145.2M457.96 139.6V144.1M459.27 139.2V154.2M460.59 144.8V151.4M467.17 118.6V137.9M468.49 134.8V142.1M469.80 137.6V146.8M475.07 136.1V144.9M476.38 137.3V143.5M477.70 136.7V141.3M479.02 130.7V142.0M481.65 121.9V134.4M482.97 128.9V157.8M484.28 148.0V170.5M485.60 166.6V186.7M486.92 182.0V212.9M488.23 204.7V238.8M493.50 190.2V211.4M494.81 205.6V216.9M496.13 208.4V227.1M497.45 218.2V239.5M500.08 226.8V234.4M509.29 196.8V203.5M510.61 199.7V211.5M511.93 205.3V217.8M513.24 211.4V234.8M514.56 229.8V253.1M515.88 245.8V269.2M517.19 265.0V275.9M518.51 269.9V283.9M519.82 278.1V289.1M521.14 286.6V295.5M522.46 289.9V304.3M523.77 297.6V315.9M529.04 266.3V283.7M530.35 278.7V290.4M538.25 253.3V265.3M539.57 256.6V265.5M540.89 261.3V270.5M542.20 265.6V277.3M543.52 273.9V284.7M552.73 258.5V274.3M554.05 267.9V277.9M555.37 272.7V283.2M565.90 243.8V254.7M573.79 211.5V216.2M575.11 210.7V217.9M576.43 213.7V224.7M577.74 218.3V225.3M580.38 220.3V227.1M581.69 224.0V227.7M583.01 223.6V233.7M584.33 225.5V246.6M585.64 238.1V251.5M586.96 247.2V261.9M588.27 257.4V272.8M592.22 250.4V255.5M594.86 247.8V256.8M596.17 253.9V257.0M604.07 231.4V240.3M608.02 222.2V227.1M615.92 200.2V208.5M618.55 198.4V212.4M619.87 208.5V217.1M621.18 212.2V221.6M622.50 216.9V235.3M627.76 197.9V208.5M631.71 190.5V200.3M633.03 195.2V207.4M635.66 198.8V205.5M638.30 195.7V209.4M640.93 199.9V221.9M642.24 215.2V227.4M647.51 195.0V205.6M648.83 194.8V208.1M651.46 194.1V201.1M654.09 193.4V207.7M655.41 200.3V208.0M656.72 203.7V211.5M658.04 205.2V212.1M660.67 200.0V219.2M661.99 213.3V227.7M668.57 204.2V210.6M669.89 207.3V213.5M672.52 202.1V212.0M673.84 206.2V217.0M685.68 189.5V225.0M687.00 225.0V246.7" stroke="#e3a2a9" stroke-width="1.1" fill="none"/>
<g stroke="#e2606f" stroke-width="1.35" fill="none" stroke-linejoin="round">
<path d="M208.4 223.3L258 323L316.9 281.4L358 393.8"/>
<path d="M465.4 122.3L529 324.5L683 182.6L728.5 263.5"/>
</g><circle cx="258" cy="323" r="2.2" fill="#ea7d89"/>
<g stroke="#e36d79" stroke-width="1" fill="none">
<path d="M682.8 182.5H937M684 191.5H883M676.8 201.5H937M678 207.5H884M933 191.5H937M933 207.5H937"/>
</g>
<g stroke="#43a047" stroke-width="1.4" fill="none">
<path d="M661.3 217.5H937M662.5 227.5H829M932.5 227.5H937"/>
</g>
<g stroke="#6f5fc8" stroke-width="1.5" fill="none" stroke-linecap="round">
<path d="M589.8 281L746.5 164.8"/>
<path d="M737.5 164.5L747 164.3L743.5 173.2"/>
</g>
</g>
</svg>
<div class="t" style="left:44.6px;top:93px;font-size:9.75px;color:#131722;font-weight:normal;">Chỉ số VNINDEX · 1W</div><div class="a" style="left:154.5px;top:95px;width:6px;height:6px;border-radius:50%;background:#b5e3d6"></div><div class="a" style="left:155.8px;top:96.3px;width:3.4px;height:3.4px;border-radius:50%;background:#089981"></div><div class="t" style="left:173.7px;top:94px;font-size:8.46px;color:#e8606b"><span style="color:#131722">O</span>1173.14 <span style="color:#131722">H</span>1174.40 <span style="color:#131722">L</span>1134.43 <span style="color:#131722">C</span>1134.99 −75.68 (−6.25%)</div><div class="t" style="left:44.6px;top:109.8px;font-size:7.6px;color:#2a2e39;font-weight:bold;">Volume - Khối lượng</div><div class="t" style="left:124.5px;top:109.8px;font-size:7.9px;color:#ee7880;font-weight:normal;">668.233M</div><div class="a" style="left:44.3px;top:123.6px;width:18px;height:11px;border:1px solid #eef0f3;border-radius:2px;background:#fff"></div><svg style="left:50px;top:127px" width="7" height="5" viewBox="0 0 7 5"><path d="M1 3.8L3.5 1.3L6 3.8" stroke="#444" stroke-width="1" fill="none"/></svg><div class="t" style="left:198.7px;top:333.7px;width:120px;text-align:center;font-size:10px;color:#df4f5e;font-weight:normal;">(A)</div><div class="t" style="left:258px;top:262.5px;width:120px;text-align:center;font-size:10px;color:#df4f5e;font-weight:normal;">(B)</div><div class="t" style="left:298px;top:401.2px;width:120px;text-align:center;font-size:10px;color:#df4f5e;font-weight:normal;">(C)</div><div class="t" style="left:470px;top:334.0px;width:120px;text-align:center;font-size:10px;color:#df4f5e;font-weight:normal;">(A)</div><div class="t" style="left:623.7px;top:166.0px;width:120px;text-align:center;font-size:10px;color:#df4f5e;font-weight:normal;">(B)</div><div class="t" style="left:669.7px;top:271.3px;width:120px;text-align:center;font-size:10px;color:#df4f5e;font-weight:normal;">(C)</div><div class="t" style="left:887.5px;top:187px;font-size:8px;color:#e0505f;font-weight:bold;">Kháng cự 2</div><div class="t" style="left:887.5px;top:203.5px;font-size:8px;color:#e0505f;font-weight:bold;">Kháng cự 1</div><div class="t" style="left:831.5px;top:223.3px;font-size:8.34px;color:#43a047;font-weight:bold;">hỗ trợ tuần của VNINDEX</div><div class="a" style="left:768.5px;top:243.5px;width:168.5px;height:28.5px;background:#e6323e;overflow:hidden"><div class="t" style="left:2px;top:3.5px;font-size:12px;font-weight:bold;font-style:italic;color:#fff">Mình là Diệu Ngọc tại Sóng Ngọc</div><div class="t" style="left:2px;top:15.5px;font-size:12px;font-weight:bold;font-style:italic;color:#fff">và bạn đang xem biểu đồ TUẦN</div></div><div class="a" style="left:937px;top:87px;width:39px;height:418px;background:#fff"></div><div class="t" style="left:942.5px;top:471.302px;font-size:7.2px;color:#131722;font-weight:normal;">400.00</div><div class="t" style="left:942.5px;top:440.28499999999997px;font-size:7.2px;color:#131722;font-weight:normal;">500.00</div><div class="t" style="left:942.5px;top:409.268px;font-size:7.2px;color:#131722;font-weight:normal;">600.00</div><div class="t" style="left:942.5px;top:378.251px;font-size:7.2px;color:#131722;font-weight:normal;">700.00</div><div class="t" style="left:942.5px;top:347.234px;font-size:7.2px;color:#131722;font-weight:normal;">800.00</div><div class="t" style="left:942.5px;top:316.217px;font-size:7.2px;color:#131722;font-weight:normal;">900.00</div><div class="t" style="left:942.5px;top:285.2px;font-size:7.2px;color:#131722;font-weight:normal;">1000.00</div><div class="t" style="left:942.5px;top:254.18300000000002px;font-size:7.2px;color:#131722;font-weight:normal;">1100.00</div><div class="t" style="left:942.5px;top:161.13200000000003px;font-size:7.2px;color:#131722;font-weight:normal;">1400.00</div><div class="t" style="left:942.5px;top:130.115px;font-size:7.2px;color:#131722;font-weight:normal;">1500.00</div><div class="t" style="left:942.5px;top:99.09800000000001px;font-size:7.2px;color:#131722;font-weight:normal;">1600.00</div><div class="a" style="left:937px;top:169.4px;width:34.5px;height:42.6px;background:#ef3340"></div><div class="a" style="left:937px;top:212px;width:34.5px;height:20.4px;background:#3fa64c"></div><div class="t" style="left:942.3px;top:171.70000000000002px;font-size:7.2px;color:#fff;font-weight:normal;">1342.91</div><div class="t" style="left:942.3px;top:182.0px;font-size:7.2px;color:#fff;font-weight:normal;">1315.92</div><div class="t" style="left:942.3px;top:192.20000000000002px;font-size:7.2px;color:#fff;font-weight:normal;">1280.60</div><div class="t" style="left:942.3px;top:202.70000000000002px;font-size:7.2px;color:#fff;font-weight:normal;">1263.11</div><div class="t" style="left:942.3px;top:213.8px;font-size:7.2px;color:#fff;font-weight:normal;">1228.10</div><div class="t" style="left:942.3px;top:224.20000000000002px;font-size:7.2px;color:#fff;font-weight:normal;">1197.99</div><div class="a" style="left:937px;top:242px;width:34.5px;height:9.5px;background:#ef3340"></div><div class="t" style="left:942.3px;top:243.2px;font-size:7.2px;color:#fff;font-weight:normal;">1134.99</div><div class="a" style="left:937px;top:486.5px;width:40px;height:10px;background:#f05565"></div><div class="t" style="left:941px;top:488px;font-size:7.2px;color:#fff;font-weight:normal;">668.233M</div><div class="a" style="left:47px;top:476px;width:20px;height:20px;border-radius:50%;background:#fff"></div><svg style="left:49.5px;top:483px" width="14" height="7.5" viewBox="0 0 14 7.5"><path d="M0 0H5.5V7H3V2.2H0Z" fill="#131722"/><circle cx="7.3" cy="1.2" r="1.2" fill="#131722"/><path d="M9.5 0H13.5L10.3 7H6.8Z" fill="#131722"/></svg><div class="a" style="left:38px;top:504px;width:938px;height:1px;background:#eceef1"></div><div class="t" style="left:-5.600000000000001px;top:509.15px;width:120px;text-align:center;font-size:7.7px;color:#131722;font-weight:bold;">2016</div><div class="t" style="left:62.849999999999994px;top:509.15px;width:120px;text-align:center;font-size:7.7px;color:#131722;font-weight:bold;">2017</div><div class="t" style="left:131.3px;top:509.15px;width:120px;text-align:center;font-size:7.7px;color:#131722;font-weight:bold;">2018</div><div class="t" style="left:199.75px;top:509.15px;width:120px;text-align:center;font-size:7.7px;color:#131722;font-weight:bold;">2019</div><div class="t" style="left:268.2px;top:509.15px;width:120px;text-align:center;font-size:7.7px;color:#131722;font-weight:bold;">2020</div><div class="t" style="left:336.65px;top:509.15px;width:120px;text-align:center;font-size:7.7px;color:#131722;font-weight:bold;">2021</div><div class="t" style="left:405.1px;top:509.15px;width:120px;text-align:center;font-size:7.7px;color:#131722;font-weight:bold;">2022</div><div class="t" style="left:473.55000000000007px;top:509.15px;width:120px;text-align:center;font-size:7.7px;color:#131722;font-weight:bold;">2023</div><div class="t" style="left:542.0px;top:509.15px;width:120px;text-align:center;font-size:7.7px;color:#131722;font-weight:bold;">2024</div><div class="t" style="left:610.45px;top:509.15px;width:120px;text-align:center;font-size:7.7px;color:#131722;font-weight:bold;">2025</div><div class="t" style="left:678.9px;top:509.15px;width:120px;text-align:center;font-size:7.7px;color:#131722;font-weight:bold;">2026</div><div class="t" style="left:747.35px;top:509.15px;width:120px;text-align:center;font-size:7.7px;color:#131722;font-weight:bold;">2027</div><div class="t" style="left:815.8000000000001px;top:509.15px;width:120px;text-align:center;font-size:7.7px;color:#131722;font-weight:bold;">2028</div><svg style="left:954.5px;top:509px" width="10" height="10" viewBox="0 0 10 10"><circle cx="5" cy="5" r="4.2" stroke="#444" stroke-width="1" fill="none"/><circle cx="5" cy="5" r="1.4" fill="#444"/></svg><svg style="left:12px;top:95px" width="17" height="17" viewBox="0 0 17 17"><path d="M8.5 1V6.3M8.5 10.7V16M1 8.5H6.3M10.7 8.5H16" stroke="#6a86b4" stroke-width="1.2"/></svg><svg style="left:12px;top:118px" width="17" height="16" viewBox="0 0 17 16"><circle cx="3" cy="8" r="1.8" stroke="#4a4f57" stroke-width="1.1" fill="none" stroke-linecap="round"/><path d="M4.8 8H15.5" stroke="#4a4f57" stroke-width="1.1" fill="none" stroke-linecap="round"/></svg><svg style="left:12px;top:140px" width="17" height="16" viewBox="0 0 17 16"><path d="M2 2.5H14M2 6H12.5M2 9.5H14M4 13H14" stroke="#4a4f57" stroke-width="1.1" fill="none" stroke-linecap="round"/><circle cx="14" cy="6" r="1.6" stroke="#4a4f57" stroke-width="1.1" fill="none" stroke-linecap="round"/><circle cx="2.5" cy="13" r="1.6" stroke="#4a4f57" stroke-width="1.1" fill="none" stroke-linecap="round"/></svg><svg style="left:11px;top:161px" width="19" height="18" viewBox="0 0 19 18"><path d="M2 14L5.5 8.5L8.5 13L12.5 7L15.5 11L17.5 8" stroke="#4a4f57" stroke-width="1.1" fill="none" stroke-linecap="round"/><circle cx="2" cy="14" r="1.1" fill="#4a4f57"/><circle cx="17.5" cy="8" r="1.1" fill="#4a4f57"/><text x="7" y="5" font-size="4.5" font-family="Liberation Sans" font-weight="bold" fill="#4a4f57">A</text><text x="14" y="4.5" font-size="4.5" font-family="Liberation Sans" font-weight="bold" fill="#4a4f57">C</text></svg><svg style="left:12px;top:185px" width="17" height="17" viewBox="0 0 17 17"><path d="M2 3.5H15M4.5 7.5H15M2 11.5H13M4.5 15H15" stroke="#4a4f57" stroke-width="1.1" fill="none" stroke-linecap="round"/><circle cx="2.8" cy="7.5" r="1.5" stroke="#4a4f57" stroke-width="1.1" fill="none" stroke-linecap="round"/><circle cx="13.8" cy="11.5" r="1.5" stroke="#4a4f57" stroke-width="1.1" fill="none" stroke-linecap="round"/><circle cx="2.8" cy="15" r="1.5" stroke="#4a4f57" stroke-width="1.1" fill="none" stroke-linecap="round"/></svg><svg style="left:12px;top:208px" width="17" height="17" viewBox="0 0 17 17"><path d="M2.5 14.5C3 11 5 9.5 7.5 10.5C8.5 12 7.5 14.5 2.5 14.5Z" stroke="#4a4f57" stroke-width="1.1" fill="none" stroke-linecap="round"/><path d="M7.5 10.5L14.5 4" stroke="#4a4f57" stroke-width="1.1" fill="none" stroke-linecap="round"/><path d="M11 5.5L15.5 8" stroke="#4a4f57" stroke-width="1.1" fill="none" stroke-linecap="round"/></svg><div class="t" style="left:14.3px;top:230.5px;font-size:15.5px;font-family:'Liberation Serif',serif;color:#4a4f57">T</div><svg style="left:12px;top:252px" width="17" height="16" viewBox="0 0 17 16"><path d="M8.5 14.5L2.3 8.2C0.8 6.5 1.2 3.5 3.6 2.6C5.6 1.9 7.3 3 8.5 4.6C9.7 3 11.4 1.9 13.4 2.6C15.8 3.5 16.2 6.5 14.7 8.2Z" stroke="#4a4f57" stroke-width="1.1" fill="none" stroke-linecap="round"/></svg><div class="a" style="left:9px;top:275px;width:23px;height:1px;background:#eceef1"></div><svg style="left:12px;top:283px" width="17" height="16" viewBox="0 0 17 16"><path d="M1.8 11.5L11.5 1.8L15 5.3L5.3 15Z" stroke="#4a4f57" stroke-width="1.1" fill="none" stroke-linecap="round"/><path d="M4.8 8.5L6.5 10.2M7 6.3L8.2 7.5M9.2 4.1L10.9 5.8" stroke="#4a4f57" stroke-width="1.1" fill="none" stroke-linecap="round"/></svg><svg style="left:12px;top:305px" width="17" height="17" viewBox="0 0 17 17"><circle cx="7.5" cy="7.5" r="5.3" stroke="#4a4f57" stroke-width="1.1" fill="none" stroke-linecap="round"/><path d="M11.3 11.3L15.2 15.2M5 7.5H10M7.5 5V10" stroke="#4a4f57" stroke-width="1.1" fill="none" stroke-linecap="round"/></svg><div class="a" style="left:9px;top:327.5px;width:23px;height:1px;background:#eceef1"></div><div class="a" style="left:10.7px;top:335px;width:19.1px;height:18.4px;border-radius:3px;background:#2f6cf0"></div><svg style="left:13.5px;top:337px" width="14" height="14" viewBox="0 0 14 14"><path d="M3 12V6.5A4 4 0 0 1 11 6.5V12H8.6V6.7A1.6 1.6 0 0 0 5.4 6.7V12Z" stroke="#fff" stroke-width="1.1" fill="none"/><path d="M3 10.2H5.4M8.6 10.2H11" stroke="#fff" stroke-width="1"/></svg><svg style="left:12px;top:359px" width="18" height="17" viewBox="0 0 18 17"><path d="M2 13.5L3 10L10.5 2.5L13 5L5.5 12.5Z" stroke="#4a4f57" stroke-width="1.1" fill="none" stroke-linecap="round"/><path d="M2 13.5L3 10" stroke="#4a4f57" stroke-width="2"/><rect x="10.5" y="10.5" width="6" height="5" rx="0.5" stroke="#4a4f57" stroke-width="1.1" fill="none" stroke-linecap="round"/><path d="M11.8 10.5V8.8A1.7 1.7 0 0 1 15.2 8.8V10.5" stroke="#4a4f57" stroke-width="1.1" fill="none" stroke-linecap="round"/></svg><svg style="left:12px;top:380px" width="17" height="17" viewBox="0 0 17 17"><rect x="3.5" y="8" width="10" height="7.5" rx="0.8" stroke="#4a4f57" stroke-width="1.1" fill="none" stroke-linecap="round"/><path d="M5.7 8V5A2.8 2.8 0 0 1 11.3 4.2" stroke="#4a4f57" stroke-width="1.1" fill="none" stroke-linecap="round"/><circle cx="8.5" cy="11.7" r="0.9" fill="#4a4f57"/></svg><svg style="left:11px;top:402px" width="19" height="17" viewBox="0 0 19 17"><path d="M1.5 7.5C3.5 3.8 6 2.5 8.5 2.5C11 2.5 13.5 3.8 15.5 7.5C13.5 11.2 11 12.5 8.5 12.5C6 12.5 3.5 11.2 1.5 7.5Z" stroke="#4a4f57" stroke-width="1.1" fill="none" stroke-linecap="round"/><circle cx="8.5" cy="7.5" r="2.4" stroke="#4a4f57" stroke-width="1.1" fill="none" stroke-linecap="round"/><path d="M12.5 16L17 12.5" stroke="#4a4f57" stroke-width="1.8"/><path d="M14.5 15.5L16.5 13.5" stroke="#fff" stroke-width="0.6"/></svg><div class="a" style="left:9px;top:425px;width:23px;height:1px;background:#eceef1"></div><svg style="left:12px;top:433px" width="17" height="17" viewBox="0 0 17 17"><path d="M2.5 3.5H14.5M6 3.5V1.8H11V3.5M3.8 3.5L4.5 15.5H12.5L13.2 3.5M7 6.5V12.8M10 6.5V12.8" stroke="#4a4f57" stroke-width="1.1" fill="none" stroke-linecap="round"/></svg><div class="a" style="left:10.9px;top:493.4px;width:18px;height:18.2px;border-radius:3px;background:#2f6cf0"></div><svg style="left:13px;top:495px" width="14" height="14" viewBox="0 0 14 14"><path d="M7 1.5L8.7 5.2L12.6 5.5L9.6 8.1L10.5 12L7 9.9L3.5 12L4.4 8.1L1.4 5.5L5.3 5.2Z" stroke="#fff" stroke-width="1.1" fill="none" stroke-linejoin="round"/></svg><svg style="left:12px;top:516px" width="17" height="17" viewBox="0 0 17 17"><path d="M8.5 1.5L15 6.5L8.5 11.5L2 6.5Z" stroke="#444" stroke-width="1.1" fill="#fff"/><path d="M2.5 9.5L8.5 14.5L14.5 9.5L15 10L8.5 15.3L2 10Z" fill="#555"/><path d="M3 8L8.5 12.5L14 8" stroke="#555" stroke-width="1.6" fill="none"/></svg><div class="a" style="left:38px;top:521.3px;width:938px;height:1px;background:#e6e8eb"></div><div class="a" style="left:38.5px;top:522px;width:937.5px;height:24px;background:#fff"></div><div class="t" style="left:47.7px;top:530.5px;font-size:8.2px;color:#444;font-weight:normal;">5y</div><div class="t" style="left:64.7px;top:530.5px;font-size:8.2px;color:#444;font-weight:normal;">1y</div><div class="t" style="left:81px;top:530.5px;font-size:8.2px;color:#444;font-weight:normal;">6p</div><div class="t" style="left:98px;top:530.5px;font-size:8.2px;color:#444;font-weight:normal;">3p</div><div class="t" style="left:116.3px;top:530.5px;font-size:8.2px;color:#444;font-weight:normal;">1p</div><div class="a" style="left:131.5px;top:522px;width:1px;height:24px;background:#d5d8dd"></div><div class="a" style="left:133px;top:522.5px;width:843px;height:23.5px;border-left:1px solid #eef0f2;border-top:1px solid #eef0f2;border-radius:3px 0 0 0"></div><svg style="left:135.5px;top:529px" width="8" height="11" viewBox="0 0 8 11"><circle cx="2" cy="2" r="0.7" fill="#c5c9cf"/><circle cx="2" cy="5.5" r="0.7" fill="#c5c9cf"/><circle cx="2" cy="9" r="0.7" fill="#c5c9cf"/><circle cx="6" cy="2" r="0.7" fill="#c5c9cf"/><circle cx="6" cy="5.5" r="0.7" fill="#c5c9cf"/><circle cx="6" cy="9" r="0.7" fill="#c5c9cf"/></svg><svg style="left:152.4px;top:526.8px" width="16" height="16" viewBox="-8 -8 16 16"><g stroke="#505560" stroke-width="1" fill="none" stroke-linecap="round"><path d="M0 -7V-2M0 2V7M-7 0H-2M2 0H7" stroke="#6a86b4" stroke-width="1.1"/></g></svg><svg style="left:175.6px;top:526.8px" width="16" height="16" viewBox="-8 -8 16 16"><g stroke="#505560" stroke-width="1" fill="none" stroke-linecap="round"><circle cx="0" cy="0" r="1.9" fill="#222" stroke="none"/></g></svg><svg style="left:198.9px;top:526.8px" width="16" height="16" viewBox="-8 -8 16 16"><g stroke="#505560" stroke-width="1" fill="none" stroke-linecap="round"><path d="M-3.5 -5.5V4L-1.2 2L0.6 5.8L2.2 5L0.4 1.3L3.5 1.1Z" stroke-linejoin="round"/></g></svg><svg style="left:223.2px;top:526.8px" width="16" height="16" viewBox="-8 -8 16 16"><g stroke="#505560" stroke-width="1" fill="none" stroke-linecap="round"><path d="M-4.5 4.5L4.5 -4.5"/><circle cx="-5" cy="5" r="1.3"/><circle cx="5" cy="-5" r="1.3"/></g></svg><svg style="left:247.2px;top:526.8px" width="16" height="16" viewBox="-8 -8 16 16"><g stroke="#505560" stroke-width="1" fill="none" stroke-linecap="round"><path d="M-6 6L6 -6"/><circle cx="-4" cy="4" r="1.3"/><circle cx="0.5" cy="-0.5" r="1.3"/></g></svg><svg style="left:271.1px;top:526.8px" width="16" height="16" viewBox="-8 -8 16 16"><g stroke="#505560" stroke-width="1" fill="none" stroke-linecap="round"><path d="M-5.5 2.5L1.5 -4.5M-2 6L5.5 -1.5"/><circle cx="-4.5" cy="2" r="1.3"/><circle cx="2.5" cy="-5" r="1.3"/><circle cx="-1" cy="5.5" r="1.3"/></g></svg><svg style="left:295.1px;top:526.8px" width="16" height="16" viewBox="-8 -8 16 16"><g stroke="#505560" stroke-width="1" fill="none" stroke-linecap="round"><path d="M-6 6L6 -6"/><circle cx="-2.5" cy="2.5" r="1.3"/><circle cx="2.5" cy="-2.5" r="1.3"/></g></svg><svg style="left:318.5px;top:526.8px" width="16" height="16" viewBox="-8 -8 16 16"><g stroke="#505560" stroke-width="1" fill="none" stroke-linecap="round"><path d="M-5.5 5H6M-5.5 5L4.5 -5"/><circle cx="-5.5" cy="5" r="1.3"/><circle cx="4.5" cy="-5.5" r="1.3"/></g></svg><svg style="left:342.6px;top:526.8px" width="16" height="16" viewBox="-8 -8 16 16"><g stroke="#505560" stroke-width="1" fill="none" stroke-linecap="round"><path d="M-6.5 0H6.5"/><circle cx="0" cy="0" r="1.3"/></g></svg><svg style="left:366px;top:526.8px" width="16" height="16" viewBox="-8 -8 16 16"><g stroke="#505560" stroke-width="1" fill="none" stroke-linecap="round"><path d="M0 -6.5V6.5"/><circle cx="0" cy="0" r="1.3"/></g></svg><svg style="left:389.4px;top:526.8px" width="16" height="16" viewBox="-8 -8 16 16"><g stroke="#505560" stroke-width="1" fill="none" stroke-linecap="round"><path d="M-6 -5H6M-6 -1.5H6M-6 2H6M-6 5.5H6"/><circle cx="5.5" cy="-1.5" r="1.3"/><circle cx="-5.5" cy="5.5" r="1.3"/></g></svg><svg style="left:413.6px;top:526.8px" width="16" height="16" viewBox="-8 -8 16 16"><g stroke="#505560" stroke-width="1" fill="none" stroke-linecap="round"><path d="M-6 2C-3 -3 2 -5 6 -5M-6 4.5H6M-6 6.5H6M-6 0C-4 -2 -2 -2 0 -2"/><circle cx="5.5" cy="-5.5" r="1.3"/></g></svg><svg style="left:435.8px;top:526.8px" width="16" height="16" viewBox="-8 -8 16 16"><g stroke="#505560" stroke-width="1" fill="none" stroke-linecap="round"><path d="M-6 -4V5H-2V-6M1 -6V5M4 -6V5"/><circle cx="-6" cy="-4.5" r="1.3"/></g></svg><svg style="left:461.2px;top:526.8px" width="16" height="16" viewBox="-8 -8 16 16"><g stroke="#505560" stroke-width="1" fill="none" stroke-linecap="round"><path d="M-6 4L-3 -1L0 3L3 -2L6 1"/><circle cx="-6" cy="4" r="1.3"/><circle cx="6" cy="1" r="1.3"/><path d="M-3 -4V-6M3 -5V-7"/></g></svg><svg style="left:484.2px;top:526.8px" width="16" height="16" viewBox="-8 -8 16 16"><g stroke="#505560" stroke-width="1" fill="none" stroke-linecap="round"><path d="M-6 4L-3 -1L0 3L3 -2L6 1"/><circle cx="-6" cy="4" r="1.3"/><circle cx="6" cy="1" r="1.3"/><text x="-4.5" y="-3" font-size="4.5" stroke="none" fill="#505560" font-family="Liberation Sans">A</text><text x="2.5" y="-4" font-size="4.5" stroke="none" fill="#505560" font-family="Liberation Sans">C</text></g></svg><svg style="left:508.29999999999995px;top:526.8px" width="16" height="16" viewBox="-8 -8 16 16"><g stroke="#505560" stroke-width="1" fill="none" stroke-linecap="round"><path d="M-5 -5H5M0 -5V5M-5 5.5H5"/><circle cx="5" cy="-5.5" r="1.3"/><circle cx="-5" cy="5.5" r="1.3"/></g></svg><svg style="left:532.5px;top:526.8px" width="16" height="16" viewBox="-8 -8 16 16"><g stroke="#505560" stroke-width="1" fill="none" stroke-linecap="round"><path d="M-5 0H5M-5.5 -5V5M5.5 -5V5"/><circle cx="5.5" cy="-5.5" r="1.3"/><circle cx="-5.5" cy="5.5" r="1.3"/></g></svg><svg style="left:555.5px;top:526.8px" width="16" height="16" viewBox="-8 -8 16 16"><g stroke="#505560" stroke-width="1" fill="none" stroke-linecap="round"><rect x="-5.5" y="-5.5" width="11" height="11"/><path d="M0 -5.5V5.5M-5.5 0H5.5"/><circle cx="5.5" cy="-5.5" r="1.3"/><circle cx="-5.5" cy="5.5" r="1.3"/></g></svg><svg style="left:579.6px;top:526.8px" width="16" height="16" viewBox="-8 -8 16 16"><g stroke="#505560" stroke-width="1" fill="none" stroke-linecap="round"><path d="M-6 5C-6 1 -3 0 -1 2C0.5 3.5 -1 5 -6 5ZM-1 2L3 -1L6 -4M2 -3L5 -1"/></g></svg><svg style="left:603.8px;top:526.8px" width="16" height="16" viewBox="-8 -8 16 16"><g stroke="#505560" stroke-width="1" fill="none" stroke-linecap="round"><path d="M-5.5 5.5L5.5 -5.5"/><path d="M-1.5 -1.5L1.5 1.5L0 3Z" fill="#505560"/><circle cx="0" cy="0" r="1.9" fill="#505560"/><circle cx="-5.5" cy="5.5" r="1.3"/><circle cx="5.5" cy="-5.5" r="1.3"/></g></svg><svg style="left:626.7px;top:526.8px" width="16" height="16" viewBox="-8 -8 16 16"><g stroke="#505560" stroke-width="1" fill="none" stroke-linecap="round"><path d="M-5.5 5.5L-4.5 1.5L3 -6L6 -3L-1.5 4.5Z"/><path d="M-4.5 1.5L-1.5 4.5"/></g></svg><svg style="left:650.9px;top:526.8px" width="16" height="16" viewBox="-8 -8 16 16"><g stroke="#505560" stroke-width="1" fill="none" stroke-linecap="round"><rect x="-5.5" y="-5.5" width="11" height="11"/><circle cx="-5.5" cy="-5.5" r="1.3"/><circle cx="5.5" cy="-5.5" r="1.3"/><circle cx="-5.5" cy="5.5" r="1.3"/><circle cx="5.5" cy="5.5" r="1.3"/></g></svg><svg style="left:675px;top:526.8px" width="16" height="16" viewBox="-8 -8 16 16"><g stroke="#505560" stroke-width="1" fill="none" stroke-linecap="round"><path d="M-6.5 1L-3.5 -2L-1 1L2 -3L6 -5M3.5 -5.5L6 -5L5.5 -2.5"/></g></svg><svg style="left:698.9px;top:526.8px" width="16" height="16" viewBox="-8 -8 16 16"><g stroke="#505560" stroke-width="1" fill="none" stroke-linecap="round"><path d="M-5 -5.5H5M0 -5.5V6M-5 -5.5V-3.5M5 -5.5V-3.5" stroke-width="1.1"/></g></svg><svg style="left:721.9px;top:526.8px" width="16" height="16" viewBox="-8 -8 16 16"><g stroke="#505560" stroke-width="1" fill="none" stroke-linecap="round"><path d="M-6 -5H6V3H-2L-5 6V3H-6Z" stroke-linejoin="round"/></g></svg><svg style="left:746.8px;top:526.8px" width="16" height="16" viewBox="-8 -8 16 16"><g stroke="#505560" stroke-width="1" fill="none" stroke-linecap="round"><circle r="6" stroke-width="1.3"/><circle r="4" /><circle r="2.2"/><circle r="0.8"/></g></svg><svg style="left:769px;top:526.8px" width="16" height="16" viewBox="-8 -8 16 16"><g stroke="#505560" stroke-width="1" fill="none" stroke-linecap="round"><path d="M-5 -6V5.5H5.5Z M-5 -6L5.5 5.5"/><circle cx="-5" cy="-6" r="1.3"/><circle cx="-5" cy="5.5" r="1.3"/><circle cx="5.5" cy="5.5" r="1.3"/></g></svg><svg style="left:794.4px;top:526.8px" width="16" height="16" viewBox="-8 -8 16 16"><g stroke="#505560" stroke-width="1" fill="none" stroke-linecap="round"><circle r="5.8"/><circle r="1.3" fill="#505560"/></g></svg><svg style="left:817.3px;top:526.8px" width="16" height="16" viewBox="-8 -8 16 16"><g stroke="#505560" stroke-width="1" fill="none" stroke-linecap="round"><path d="M-6 -4H6M-6 0.5H6M-6 5H6"/><circle cx="-4" cy="-4" r="1.3"/><circle cx="-4" cy="0.5" r="1.3"/><circle cx="-4" cy="5" r="1.3"/></g></svg><svg style="left:841.5px;top:526.8px" width="16" height="16" viewBox="-8 -8 16 16"><g stroke="#505560" stroke-width="1" fill="none" stroke-linecap="round"><path d="M-4.5 0H5.5"/><circle cx="-5" cy="0" r="1.3"/></g></svg><svg style="left:864.5px;top:526.8px" width="16" height="16" viewBox="-8 -8 16 16"><g stroke="#505560" stroke-width="1" fill="none" stroke-linecap="round"><path d="M-6 5.5L-3 -6M-6 5.5L1 -5M-6 5.5L4 -2.5M-6 5.5L6 1.5M-6 5.5L6 4.5"/></g></svg><svg style="left:888.6px;top:526.8px" width="16" height="16" viewBox="-8 -8 16 16"><g stroke="#505560" stroke-width="1" fill="none" stroke-linecap="round"><path d="M-6 5.5C-6 1 -3 0 0 1C2 2 1 5 -2 5.5ZM-3 0L0 -5M0 1L4 -3M3 5.5H6"/></g></svg><svg style="left:911.6px;top:526.8px" width="16" height="16" viewBox="-8 -8 16 16"><g stroke="#505560" stroke-width="1" fill="none" stroke-linecap="round"><path d="M-6 2L5 -5M-6 5.5L6 -2M-4 6.5L6 1"/><circle cx="5.5" cy="-5.5" r="1.3"/><circle cx="-5.5" cy="5.5" r="1.3"/></g></svg><svg style="left:930.9px;top:526.8px" width="16" height="16" viewBox="-8 -8 16 16"><g stroke="#505560" stroke-width="1" fill="none" stroke-linecap="round"><path d="M-3.5 6.5V-6M-3.5 -5H1V-2H-3.5M-3.5 -1H1V2H-3.5"/></g></svg><svg style="left:941.8px;top:526.8px" width="16" height="16" viewBox="-8 -8 16 16"><g stroke="#505560" stroke-width="1" fill="none" stroke-linecap="round"><path d="M0 -6V6"/><circle cx="0" cy="-5.5" r="1.3"/></g></svg><svg style="left:958.7px;top:526.8px" width="16" height="16" viewBox="-8 -8 16 16"><g stroke="#505560" stroke-width="1" fill="none" stroke-linecap="round"><path d="M-6 5L-3.5 -0.5L-1 3L1.5 -2L3.5 2L6 -1"/><circle cx="-6" cy="5" r="1.3"/><circle cx="6" cy="-1" r="1.3"/><text x="-4" y="-3" font-size="4.5" stroke="none" fill="#505560" font-family="Liberation Sans">A</text><text x="3" y="-3.5" font-size="4.5" stroke="none" fill="#505560" font-family="Liberation Sans">C</text></g></svg><div class="a" style="left:984px;top:42px;width:196px;height:504.5px;background:#f6f7f9"></div><div class="t" style="left:990px;top:50px;font-size:10px;color:#222;font-weight:bold;">Chỉ số VNINDEX</div><div class="t" style="left:973.8px;top:50.2px;width:200px;text-align:right;font-size:10.6px;color:#222;font-weight:bold;letter-spacing:-0.45px">1134.99</div><svg style="left:989.5px;top:68.5px" width="11" height="11" viewBox="0 0 11 11"><circle cx="5.5" cy="5.5" r="4.3" stroke="#4caf50" stroke-width="1.3" fill="none"/><path d="M5.5 3V5.8L7.3 7" stroke="#4caf50" stroke-width="1.1" fill="none"/><path d="M1.5 8.5L0.5 10.5" stroke="#4caf50" stroke-width="1.2"/></svg><div class="t" style="left:1002px;top:69.6px;font-size:10px;color:#4d6fa3;font-weight:normal;">VNINDEX</div><div class="a" style="left:1052px;top:67.4px;width:14.4px;height:13.6px;border:1px solid #dcdfe4;background:#fff;border-radius:2px"></div><svg style="left:1054.5px;top:69.5px" width="10" height="10" viewBox="0 0 10 10"><path d="M1.5 8.5L2 6.5L6.8 1.7L8.3 3.2L3.5 8Z" fill="#333"/></svg><div class="t" style="left:973.8px;top:68.3px;width:200px;text-align:right;font-size:10.6px;color:#e5534b;font-weight:normal;letter-spacing:-0.3px">-75.68 / -6.25%</div><div class="a" style="left:990px;top:91.4px;width:93px;height:14.3px;background:#2f6fd6"></div><div class="a" style="left:1083px;top:91.4px;width:90.7px;height:14.3px;background:#fff;border:1px solid #e0e3e8;border-left:none"></div><div class="t" style="left:976.5px;top:94.25px;width:120px;text-align:center;font-size:8.7px;color:#fff;font-weight:normal;">Tổng hợp</div><div class="t" style="left:1068.3px;top:94.25px;width:120px;text-align:center;font-size:8.7px;color:#333;font-weight:normal;">Dòng tiền</div><svg style="left:0;top:0" width="1200" height="587"><path d="M993 192.7H1152M993 174.1H1152M993 155.5H1152M993 136.9H1152M993 118.3H1152" stroke="#e8eaed" stroke-width="0.8"/><path d="M1016.5 212.4V202.1M1017.5 212.4V201.2M1018.5 212.4V194.5M1019.5 212.4V202.8M1020.5 212.4V201.2M1021.5 212.4V196.7M1022.5 212.4V197.3M1023.5 212.4V198.3M1024.5 212.4V198.1M1025.5 212.4V198.5M1026.5 212.4V192.4M1027.5 212.4V196.6M1028.5 212.4V194.3M1029.5 212.4V195.3M1030.5 212.4V195.9M1031.5 212.4V195.4M1032.5 212.4V197.3M1033.5 212.4V196.5M1034.5 212.4V187.6M1035.5 212.4V198.0M1036.5 212.4V191.3M1037.5 212.4V194.7M1038.5 212.4V196.2M1039.5 212.4V197.9M1040.5 212.4V192.4M1041.5 212.4V196.8M1042.5 212.4V196.4M1043.5 212.4V198.0M1044.5 212.4V197.3M1045.5 212.4V197.5M1046.5 212.4V199.1M1047.5 212.4V198.9M1048.5 212.4V192.4M1049.5 212.4V199.7M1050.5 212.4V203.9M1051.5 212.4V202.7M1052.5 212.4V203.6M1053.5 212.4V196.2M1054.5 212.4V197.5M1055.5 212.4V202.3M1056.5 212.4V201.9M1057.5 212.4V203.6M1058.5 212.4V199.6M1059.5 212.4V198.6M1060.5 212.4V205.4M1061.5 212.4V204.0M1062.5 212.4V206.3M1063.5 212.4V205.3M1064.5 212.4V203.3M1065.5 212.4V204.9M1066.5 212.4V204.3M1067.5 212.4V204.6M1068.5 212.4V203.4M1069.5 212.4V205.2M1070.5 212.4V205.9M1071.5 212.4V203.4M1072.5 212.4V199.9M1073.5 212.4V205.3M1074.5 212.4V206.6M1075.5 212.4V199.5M1076.5 212.4V204.4M1077.5 212.4V198.4M1078.5 212.4V198.4M1079.5 212.4V198.4M1080.5 212.4V204.0M1081.5 212.4V205.5M1082.5 212.4V212.4M1083.5 212.4V212.4M1084.5 212.4V212.4M1085.5 212.4V212.4M1086.5 212.4V212.4M1087.5 212.4V203.3M1088.5 212.4V204.6M1089.5 212.4V204.7M1090.5 212.4V205.2M1091.5 212.4V200.2M1092.5 212.4V204.3M1093.5 212.4V205.6M1094.5 212.4V203.7M1095.5 212.4V206.5M1096.5 212.4V204.6M1097.5 212.4V206.2M1098.5 212.4V204.5M1099.5 212.4V204.6M1100.5 212.4V206.7M1101.5 212.4V199.4M1102.5 212.4V199.4M1103.5 212.4V206.6M1104.5 212.4V205.9M1105.5 212.4V208.0M1106.5 212.4V206.3M1107.5 212.4V206.5M1108.5 212.4V208.6M1109.5 212.4V207.0M1110.5 212.4V208.3M1111.5 212.4V208.3M1112.5 212.4V207.4M1113.5 212.4V209.6M1114.5 212.4V207.9M1115.5 212.4V209.0M1116.5 212.4V208.1M1117.5 212.4V208.4M1118.5 212.4V208.6M1119.5 212.4V209.3M1120.5 212.4V206.4M1121.5 212.4V208.7M1122.5 212.4V205.2M1123.5 212.4V208.0M1124.5 212.4V207.9M1125.5 212.4V207.9M1126.5 212.4V209.8M1127.5 212.4V209.4M1128.5 212.4V208.4M1129.5 212.4V208.9M1130.5 212.4V208.4M1131.5 212.4V209.2M1132.5 212.4V208.7M1133.5 212.4V208.9M1134.5 212.4V208.5M1135.5 212.4V209.3M1136.5 212.4V207.7M1137.5 212.4V204.8M1138.5 212.4V208.2M1139.5 212.4V209.5M1140.5 212.4V209.0M1141.5 212.4V208.6M1142.5 212.4V204.8M1143.5 212.4V209.4M1144.5 212.4V206.3M1145.5 212.4V207.3M1146.5 212.4V209.3M1147.5 212.4V208.8M1148.5 212.4V208.7M1149.5 212.4V208.1M1015.6 212.4V125M1087.2 212.4V175.4M993.5 212.4V210.5" stroke="#d8bd3a" stroke-width="1" fill="none"/><path d="M993 212.4H1152" stroke="#9aa0a8" stroke-width="0.8"/><path d="M993.0 150.4L1015.5 131.0L1017.0 136.0L1019.0 141.0L1022.9 151.5L1027.0 157.0L1032.0 164.0L1037.0 171.0L1041.7 177.5L1044.0 178.0L1047.0 173.0L1050.5 169.5L1055.0 168.5L1059.4 168.3L1063.0 170.0L1067.0 172.5L1071.6 175.0L1076.0 177.5L1080.5 180.3L1086.0 184.0L1092.0 188.0L1097.0 191.5L1102.6 194.7L1107.0 195.5L1111.5 196.0L1118.0 198.0L1125.0 200.0L1133.6 202.0L1141.0 202.8L1150.2 203.1" stroke="#e0645a" stroke-width="1.6" fill="none" stroke-linejoin="round"/></svg><div class="t" style="left:1155.8px;top:114.50000000000001px;font-size:7.9px;color:#666;font-weight:normal;">1,180</div><div class="t" style="left:1155.8px;top:133.1px;font-size:7.9px;color:#666;font-weight:normal;">1,170</div><div class="t" style="left:1155.8px;top:151.7px;font-size:7.9px;color:#666;font-weight:normal;">1,160</div><div class="t" style="left:1155.8px;top:170.3px;font-size:7.9px;color:#666;font-weight:normal;">1,150</div><div class="t" style="left:1155.8px;top:188.9px;font-size:7.9px;color:#666;font-weight:normal;">1,140</div><div class="t" style="left:1155.8px;top:207.5px;font-size:7.9px;color:#666;font-weight:normal;">1,130</div><div class="t" style="left:933.0px;top:216.25px;width:120px;text-align:center;font-size:7.9px;color:#666;font-weight:normal;">9:00</div><div class="t" style="left:955.4px;top:216.25px;width:120px;text-align:center;font-size:7.9px;color:#666;font-weight:normal;">9:15</div><div class="t" style="left:977.8px;top:216.25px;width:120px;text-align:center;font-size:7.9px;color:#666;font-weight:normal;">9:30</div><div class="t" style="left:1000.2px;top:216.25px;width:120px;text-align:center;font-size:7.9px;color:#666;font-weight:normal;">9:45</div><div class="t" style="left:1022.5999999999999px;top:216.25px;width:120px;text-align:center;font-size:7.9px;color:#666;font-weight:normal;">10:00</div><div class="t" style="left:1045.0px;top:216.25px;width:120px;text-align:center;font-size:7.9px;color:#666;font-weight:normal;">10:15</div><div class="t" style="left:1067.4px;top:216.25px;width:120px;text-align:center;font-size:7.9px;color:#666;font-weight:normal;">10:30</div><div class="t" style="left:1089.8px;top:216.25px;width:120px;text-align:center;font-size:7.9px;color:#666;font-weight:normal;">10:45</div><div class="a" style="left:1176px;top:114px;width:4px;height:343px;background:#c6cad1"></div><div class="t" style="left:991.4px;top:238.8px;font-size:8.6px;color:#222;font-weight:bold;">TỔNG QUAN</div><div class="a" style="left:984px;top:255.5px;width:192px;height:21.2px;background:#e8eaee"></div><div class="t" style="left:989px;top:261.8px;font-size:8.7px;color:#333;font-weight:normal;">Tham chiếu</div><div class="t" style="left:974.5999999999999px;top:261.8px;width:200px;text-align:right;font-size:8.7px;color:#222;font-weight:normal;"><b style="color:#d4a61a">1210.67</b></div><div class="t" style="left:989px;top:283.0px;font-size:8.7px;color:#333;font-weight:normal;">Mở cửa</div><div class="t" style="left:974.5999999999999px;top:283.0px;width:200px;text-align:right;font-size:8.7px;color:#222;font-weight:normal;"><b style="color:#e5534b">1173.14</b></div><div class="a" style="left:984px;top:297.9px;width:192px;height:21.2px;background:#e8eaee"></div><div class="t" style="left:989px;top:304.2px;font-size:8.7px;color:#333;font-weight:normal;">Thấp - Cao</div><div class="t" style="left:974.5999999999999px;top:304.2px;width:200px;text-align:right;font-size:8.7px;color:#222;font-weight:normal;"><b style="color:#e5534b">1134.43</b> <b>-</b> <b style="color:#e5534b">1174.40</b></div><div class="t" style="left:989px;top:325.40000000000003px;font-size:8.7px;color:#333;font-weight:normal;">KL khớp</div><div class="t" style="left:974.5999999999999px;top:325.40000000000003px;width:200px;text-align:right;font-size:8.7px;color:#222;font-weight:normal;"><b>668.233.152</b></div><div class="a" style="left:984px;top:340.3px;width:192px;height:21.2px;background:#e8eaee"></div><div class="t" style="left:989px;top:346.6px;font-size:8.7px;color:#333;font-weight:normal;">KL thỏa thuận</div><div class="t" style="left:974.5999999999999px;top:346.6px;width:200px;text-align:right;font-size:8.7px;color:#222;font-weight:normal;"><b>26.886.272</b></div><div class="t" style="left:989px;top:367.8px;font-size:8.7px;color:#333;font-weight:normal;">Tổng KL</div><div class="t" style="left:974.5999999999999px;top:367.8px;width:200px;text-align:right;font-size:8.7px;color:#222;font-weight:normal;"><b>695.119.424</b></div><div class="a" style="left:984px;top:382.7px;width:192px;height:21.2px;background:#e8eaee"></div><div class="t" style="left:989px;top:389.0px;font-size:8.7px;color:#333;font-weight:normal;">Tổng giá trị</div><div class="t" style="left:974.5999999999999px;top:389.0px;width:200px;text-align:right;font-size:8.7px;color:#222;font-weight:normal;"><b>14.855,97 tỷ</b></div><div class="t" style="left:990.6px;top:412.8px;font-size:8.6px;color:#222;font-weight:bold;">GIAO DỊCH NĐTNN</div><div class="a" style="left:984px;top:430.6px;width:192px;height:20.6px;background:#e8eaee"></div><div class="a" style="left:984px;top:472.3px;width:192px;height:20.6px;background:#e8eaee"></div><div class="t" style="left:989px;top:436px;font-size:8.7px;color:#444;font-weight:normal;">KL Mua</div><div class="t" style="left:1052.8px;top:436px;font-size:8.7px;color:#444;font-weight:normal;">KL Bán</div><div class="t" style="left:1118px;top:436px;font-size:8.7px;color:#444;font-weight:normal;">KL Mua-Bán</div><div class="t" style="left:990px;top:457.5px;font-size:8.7px;color:#2ea043;font-weight:bold;">33.473.706</div><div class="t" style="left:1054.5px;top:457.5px;font-size:8.7px;color:#e5534b;font-weight:bold;">69.590.888</div><div class="t" style="left:1119.6px;top:457.5px;font-size:8.7px;color:#e5534b;font-weight:bold;">-36.117.182</div><div class="t" style="left:989px;top:478.3px;font-size:8.7px;color:#444;font-weight:normal;">GT Mua</div><div class="t" style="left:1052.8px;top:478.3px;font-size:8.7px;color:#444;font-weight:normal;">GT Bán</div><div class="t" style="left:1118px;top:478.3px;font-size:8.7px;color:#444;font-weight:normal;">GT Mua-Bán</div><div class="t" style="left:990px;top:499.5px;font-size:8.7px;color:#2ea043;font-weight:bold;">1085.65 tỷ</div><div class="t" style="left:1054.5px;top:499.5px;font-size:8.7px;color:#e5534b;font-weight:bold;">2178.38 tỷ</div><div class="t" style="left:1119.6px;top:499.5px;font-size:8.7px;color:#e5534b;font-weight:bold;">-1092.73 tỷ</div><div class="t" style="left:990.5px;top:530.5px;font-size:9.1px;color:#444;font-weight:normal;">NN mua ròng (tỷ)</div><div class="t" style="left:1094px;top:530.5px;font-size:8.7px;color:#444;font-weight:normal;">Hôm nay</div><div class="t" style="left:1138px;top:530.5px;font-size:8.6px;color:#4a78c8;font-weight:normal;">10 phiên</div><div class="a" style="left:1180px;top:42px;width:20px;height:504.5px;background:#bac0c8"></div><div class="a" style="left:1181.5px;top:42px;width:15.5px;height:53.400000000000006px;background:#dadde2;border-radius:0 3px 3px 0"></div><div class="t" style="left:1129.3px;top:64.2px;width:120px;text-align:center;font-size:8.6px;color:#6a707a;transform:rotate(90deg)">&nbsp;&nbsp;&nbsp;Copilot</div><svg style="left:1183.5px;top:47.5px" width="8" height="8" viewBox="0 0 8 8"><circle cx="4" cy="4" r="3.8" fill="#1a6fc4"/><circle cx="4.6" cy="4" r="1.7" fill="#dadde2"/></svg><div class="a" style="left:1181.5px;top:97.5px;width:15.5px;height:49.5px;background:#fff;border-radius:0 3px 3px 0"></div><div class="t" style="left:1129.3px;top:117.75px;width:120px;text-align:center;font-size:8.6px;color:#6a707a;transform:rotate(90deg)">Thông tin</div><div class="a" style="left:1181.5px;top:148.5px;width:15.5px;height:51.099999999999994px;background:#dadde2;border-radius:0 3px 3px 0"></div><div class="t" style="left:1129.3px;top:169.55px;width:120px;text-align:center;font-size:8.6px;color:#6a707a;transform:rotate(90deg)">Watchlist</div><div class="a" style="left:1181.5px;top:201px;width:15.5px;height:49.69999999999999px;background:#dadde2;border-radius:0 3px 3px 0"></div><div class="t" style="left:1129.3px;top:221.35px;width:120px;text-align:center;font-size:8.6px;color:#6a707a;transform:rotate(90deg)">Bài viết</div><div class="a" style="left:1181.5px;top:252px;width:15.5px;height:52.60000000000002px;background:#dadde2;border-radius:0 3px 3px 0"></div><div class="t" style="left:1129.3px;top:273.8px;width:120px;text-align:center;font-size:8.6px;color:#6a707a;transform:rotate(90deg)">Cộng đồng</div><div class="a" style="left:1181.5px;top:306px;width:15.5px;height:53.5px;background:#dadde2;border-radius:0 3px 3px 0"></div><div class="t" style="left:1129.3px;top:328.25px;width:120px;text-align:center;font-size:8.6px;color:#6a707a;transform:rotate(90deg)">Cảnh báo</div><div class="a" style="left:1181.5px;top:361px;width:15.5px;height:53px;background:#dadde2;border-radius:0 3px 3px 0"></div><div class="t" style="left:1129.3px;top:383.0px;width:120px;text-align:center;font-size:8.6px;color:#6a707a;transform:rotate(90deg)">Kiến thức</div><div class="a" style="left:0;top:551px;width:1200px;height:36px;background:#dcdcdc"></div><div class="a" style="left:0;top:551px;width:1200px;height:1px;background:#e4e3e0"></div><svg style="left:15px;top:561px" width="21" height="15" viewBox="0 0 21 15"><path d="M4.5 13.5H17A3.5 3.5 0 0 0 17.5 6.5A5 5 0 0 0 8 5.5A4 4 0 0 0 4.5 13.5Z" fill="#8fb6e8"/><path d="M4.5 13.5H17A3.5 3.5 0 0 0 19.5 11H2.2A4 4 0 0 0 4.5 13.5Z" fill="#5d93d6"/></svg><div class="a" style="left:23.8px;top:555px;width:12.6px;height:12.6px;border-radius:50%;background:#c42b1c;border:1px solid #e8c8c4"></div><div class="t" style="left:27.9px;top:557.6px;font-size:7.8px;color:#ffd0c8;font-weight:bold;">2</div><div class="t" style="left:40px;top:558.5px;font-size:9.2px;color:#222;font-weight:normal;">78°F</div><div class="t" style="left:40px;top:571px;font-size:9.3px;color:#666;font-weight:normal;">Có mây</div><svg style="left:428.5px;top:559.3px" width="19" height="19.3" viewBox="0 0 19 19.3"><defs><linearGradient id="wg" x1="0" y1="0" x2="1" y2="1"><stop offset="0" stop-color="#37b6f6"/><stop offset="1" stop-color="#0a6fd6"/></linearGradient></defs><rect x="0" y="0" width="9" height="9" fill="url(#wg)"/><rect x="10" y="0" width="9" height="9" fill="url(#wg)"/><rect x="0" y="10" width="9" height="9" fill="url(#wg)"/><rect x="10" y="10" width="9" height="9" fill="url(#wg)"/></svg><div class="a" style="left:459.7px;top:557.3px;width:76px;height:23.3px;border-radius:12px;background:#f4f4f4;border:1px solid #e6e6e6"></div><svg style="left:476px;top:563px" width="12" height="12" viewBox="0 0 12 12"><circle cx="5" cy="5" r="3.8" stroke="#222" stroke-width="1.3" fill="none"/><path d="M7.8 7.8L11 11" stroke="#222" stroke-width="1.4"/></svg><div class="t" style="left:490.8px;top:564.3px;font-size:8.9px;color:#333;font-weight:normal;">Search</div><svg style="left:546.5px;top:560.5px" width="15" height="17.5" viewBox="0 0 15 17.5"><rect x="4" y="0.5" width="10.5" height="12" fill="#c9c9c9"/><rect x="0" y="5" width="10" height="12" fill="#1c1c1c"/><rect x="3" y="5" width="7" height="9" fill="#f1f1f1"/></svg><svg style="left:582.5px;top:560.5px" width="17" height="17" viewBox="0 0 17 17"><circle cx="8.5" cy="8.5" r="7.9" fill="#111"/><circle cx="8.5" cy="8.5" r="6.5" fill="#2a2a2a"/><circle cx="8.5" cy="4.8" r="2.4" fill="#fff"/><circle cx="5.3" cy="10.6" r="2.4" fill="#fff"/><circle cx="11.7" cy="10.6" r="2.4" fill="#fff"/><circle cx="8.5" cy="4.8" r="1.4" fill="#222"/><circle cx="5.3" cy="10.6" r="1.4" fill="#222"/><circle cx="11.7" cy="10.6" r="1.4" fill="#222"/></svg><div class="a" style="left:609px;top:554px;width:30.4px;height:31px;border-radius:4px;background:#ededed"></div><svg style="left:0;top:0" width="1200" height="587"><path d="M624.8 568.8L617.61 564.65A8.3 8.3 0 0 1 631.99 564.65Z" fill="#e33b2e"/><path d="M624.8 568.8L631.99 564.65A8.3 8.3 0 0 1 624.80 577.10Z" fill="#f7c325"/><path d="M624.8 568.8L624.80 577.10A8.3 8.3 0 0 1 617.61 564.65Z" fill="#2da94f"/><circle cx="624.8" cy="568.8" r="3.98" fill="#fff"/><circle cx="624.8" cy="568.8" r="3.07" fill="#3b7ded"/><path d="M659 568.8L651.81 564.65A8.3 8.3 0 0 1 666.19 564.65Z" fill="#e33b2e"/><path d="M659 568.8L666.19 564.65A8.3 8.3 0 0 1 659.00 577.10Z" fill="#f7c325"/><path d="M659 568.8L659.00 577.10A8.3 8.3 0 0 1 651.81 564.65Z" fill="#2da94f"/><circle cx="659" cy="568.8" r="3.98" fill="#fff"/><circle cx="659" cy="568.8" r="3.07" fill="#3b7ded"/><circle cx="632.5" cy="559.8" r="4.6" fill="#7d8a78" stroke="#e6e6e6" stroke-width="0.8"/><circle cx="666.5" cy="559.8" r="4.6" fill="#8a96a0" stroke="#dcdcdc" stroke-width="0.8"/></svg><div class="a" style="left:619px;top:582px;width:12px;height:2px;border-radius:1px;background:#1a73e8"></div><div class="a" style="left:657.5px;top:582.3px;width:4.5px;height:1.6px;border-radius:1px;background:#777"></div><div class="a" style="left:679px;top:553px;width:30.6px;height:30.5px;border-radius:4px;background:#ebc5c5"></div><svg style="left:685.5px;top:560px" width="18" height="18" viewBox="0 0 18 18"><rect x="0.5" y="0.5" width="17" height="17" rx="5" fill="#fff"/><path d="M3 3.5C6 1.5 13 1.5 15 4.5C17 8 15 13 9 13.5L5 16L5.5 12.5C2 11 1 6 3 3.5Z" fill="#fff" stroke="#1d6ff0" stroke-width="1.1"/><text x="4" y="10.5" font-size="5" font-weight="bold" fill="#1d6ff0" font-family="Liberation Sans">Zalo</text></svg><div class="a" style="left:695.6px;top:556.3px;width:10.5px;height:10.5px;border-radius:50%;background:#e02020"></div><div class="t" style="left:698.9px;top:558px;font-size:7.3px;color:#fff;font-weight:bold;">5</div><div class="a" style="left:691.5px;top:582.2px;width:5px;height:1.8px;border-radius:1px;background:#c42b1c"></div><svg style="left:719.8px;top:560.3px" width="17" height="17" viewBox="0 0 17 17"><circle cx="8.5" cy="8.5" r="8.4" fill="#2a9fdd"/><path d="M3.5 8.3L12.8 4.6L11.2 12.6L8.4 10.6L7 12L7.2 9.7L11 6.4L6.2 9.2Z" fill="#fff"/></svg><svg style="left:753.3px;top:560.4px" width="19.5" height="17" viewBox="0 0 19.5 17"><path d="M0.5 2.5A1.5 1.5 0 0 1 2 1H7L8.5 3H17.5A1.5 1.5 0 0 1 19 4.5V15A1.5 1.5 0 0 1 17.5 16.5H2A1.5 1.5 0 0 1 0.5 15Z" fill="#f2bb2f"/><rect x="0.5" y="5" width="18.5" height="11.5" rx="1" fill="#fbd35a"/><rect x="3" y="10.5" width="13.5" height="3" fill="#2f7ad8"/></svg><svg style="left:982px;top:565px" width="9" height="6" viewBox="0 0 9 6"><path d="M1 5L4.5 1.5L8 5" stroke="#333" stroke-width="1.2" fill="none"/></svg><div class="a" style="left:1004.5px;top:561px;width:12.2px;height:14.5px;border:1px solid #d33;background:#fff"></div><div class="t" style="left:1006.8px;top:563.5px;font-size:10px;color:#d12a2a;font-weight:bold;">V</div><div class="t" style="left:1034.4px;top:565.2px;font-size:7.6px;color:#333;font-weight:normal;">VIE</div><svg style="left:1063.5px;top:561px" width="15" height="14" viewBox="0 0 15 14"><rect x="1" y="1" width="10" height="8" stroke="#333" stroke-width="1.1" fill="none"/><path d="M4 12H8M6 9V12" stroke="#333" stroke-width="1.1"/><path d="M11 1.5V6.5M13 1V7" stroke="#333" stroke-width="1"/></svg><svg style="left:1082.5px;top:563px" width="10" height="10" viewBox="0 0 10 10"><path d="M1 3.5H3L6 1V9L3 6.5H1Z" stroke="#333" stroke-width="1" fill="none"/><path d="M7.5 3.5Q8.5 5 7.5 6.5" stroke="#333" stroke-width="0.9" fill="none"/></svg><svg style="left:1101.5px;top:562.5px" width="15" height="11" viewBox="0 0 15 11"><rect x="1" y="2" width="11" height="7" rx="1" stroke="#333" stroke-width="1.1" fill="none"/><rect x="2.5" y="3.5" width="4" height="4" fill="#333"/><path d="M12.5 4V7" stroke="#333" stroke-width="1.2"/><path d="M4 0.5L2.5 3H5L3.5 5.5" stroke="#333" stroke-width="0.8" fill="none"/></svg><div class="t" style="left:966.5px;top:558px;width:200px;text-align:right;font-size:9.2px;color:#222;font-weight:normal;">10:45 AM</div><div class="t" style="left:966.5px;top:570.8px;width:200px;text-align:right;font-size:9.4px;color:#222;font-weight:normal;">4/8/2025</div><svg style="left:1174.5px;top:561.5px" width="11" height="13" viewBox="0 0 11 13"><path d="M2 1.5H9.5V10.5H2Z" stroke="#333" stroke-width="1.1" fill="none"/><path d="M4 4.5H7.5M4 7H6.5" stroke="#333" stroke-width="0.9"/><path d="M0.8 5V12H7" stroke="#333" stroke-width="1" fill="none"/></svg></body></html>
